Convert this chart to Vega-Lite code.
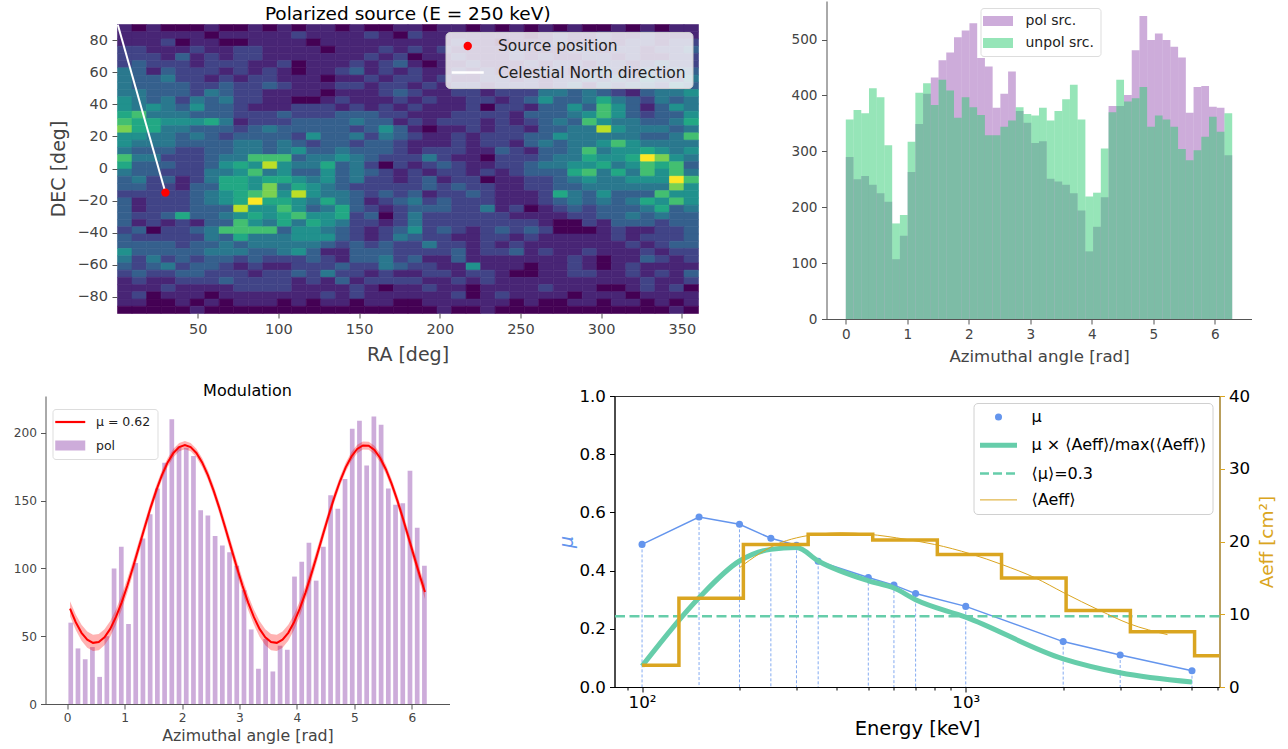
{
"$schema": "https://vega.github.io/schema/vega-lite/v6.json",
"background": "white",
"padding": {"left": 12.5, "top": 1, "right": 0, "bottom": 0},
"config": {
  "font": "DejaVu Sans",
  "view": {"stroke": null},
  "axis": {"grid": false, "tickSize": 5, "labelPadding": 4, "domainColor": "#555555", "tickColor": "#555555", "labelColor": "#444444", "titleColor": "#444444", "titleFontWeight": "normal", "labelFlush": false, "labelOverlap": false},
  "title": {"fontWeight": "normal", "color": "#000000", "anchor": "middle"},
  "legend": {"titleFontWeight": "normal", "labelLimit": 500}
},
"spacing": 16,
"resolve": {"scale": {"x": "independent", "y": "independent", "color": "independent", "fill": "independent", "stroke": "independent"}, "legend": {"color": "independent", "fill": "independent", "stroke": "independent"}},
"vconcat": [
{
"spacing": 91,
"resolve": {"scale": {"x": "independent", "y": "independent", "color": "independent", "fill": "independent", "stroke": "independent"}, "legend": {"color": "independent", "fill": "independent", "stroke": "independent"}},
"hconcat": [
{
"width": 652.5, "height": 312,
"title": {"text": "Polarized source (E = 250 keV)", "fontSize": 18.5, "offset": -22, "dx": 36},
"layer": [
{
"data": {"values": [
{"r":0,"d":85.5,"c":1},{"r":9,"d":85.5,"c":0},{"r":18,"d":85.5,"c":1},{"r":27,"d":85.5,"c":0},{"r":36,"d":85.5,"c":0},{"r":45,"d":85.5,"c":0},{"r":54,"d":85.5,"c":1},{"r":63,"d":85.5,"c":0},{"r":72,"d":85.5,"c":0},{"r":81,"d":85.5,"c":1},{"r":90,"d":85.5,"c":0},{"r":99,"d":85.5,"c":1},{"r":108,"d":85.5,"c":0},{"r":117,"d":85.5,"c":1},{"r":126,"d":85.5,"c":1},{"r":135,"d":85.5,"c":0},{"r":144,"d":85.5,"c":1},{"r":153,"d":85.5,"c":0},{"r":162,"d":85.5,"c":0},{"r":171,"d":85.5,"c":1},{"r":180,"d":85.5,"c":1},{"r":189,"d":85.5,"c":0},{"r":198,"d":85.5,"c":1},{"r":207,"d":85.5,"c":1},{"r":216,"d":85.5,"c":0},{"r":225,"d":85.5,"c":1},{"r":234,"d":85.5,"c":0},{"r":243,"d":85.5,"c":1},{"r":252,"d":85.5,"c":0},{"r":261,"d":85.5,"c":1},{"r":270,"d":85.5,"c":0},{"r":279,"d":85.5,"c":1},{"r":288,"d":85.5,"c":0},{"r":297,"d":85.5,"c":0},{"r":306,"d":85.5,"c":1},{"r":315,"d":85.5,"c":0},{"r":324,"d":85.5,"c":1},{"r":333,"d":85.5,"c":0},{"r":342,"d":85.5,"c":1},{"r":351,"d":85.5,"c":1},
{"r":0,"d":81,"c":1},{"r":9,"d":81,"c":1},{"r":18,"d":81,"c":1},{"r":27,"d":81,"c":1},{"r":36,"d":81,"c":1},{"r":45,"d":81,"c":1},{"r":54,"d":81,"c":0},{"r":63,"d":81,"c":1},{"r":72,"d":81,"c":1},{"r":81,"d":81,"c":1},{"r":90,"d":81,"c":1},{"r":99,"d":81,"c":1},{"r":108,"d":81,"c":2},{"r":117,"d":81,"c":1},{"r":126,"d":81,"c":1},{"r":135,"d":81,"c":1},{"r":144,"d":81,"c":1},{"r":153,"d":81,"c":2},{"r":162,"d":81,"c":1},{"r":171,"d":81,"c":0},{"r":180,"d":81,"c":2},{"r":189,"d":81,"c":1},{"r":198,"d":81,"c":1},{"r":207,"d":81,"c":1},{"r":216,"d":81,"c":1},{"r":225,"d":81,"c":1},{"r":234,"d":81,"c":1},{"r":243,"d":81,"c":1},{"r":252,"d":81,"c":0},{"r":261,"d":81,"c":1},{"r":270,"d":81,"c":2},{"r":279,"d":81,"c":1},{"r":288,"d":81,"c":1},{"r":297,"d":81,"c":2},{"r":306,"d":81,"c":1},{"r":315,"d":81,"c":1},{"r":324,"d":81,"c":2},{"r":333,"d":81,"c":1},{"r":342,"d":81,"c":1},{"r":351,"d":81,"c":1},
{"r":0,"d":76.5,"c":1},{"r":9,"d":76.5,"c":1},{"r":18,"d":76.5,"c":1},{"r":27,"d":76.5,"c":2},{"r":36,"d":76.5,"c":0},{"r":45,"d":76.5,"c":1},{"r":54,"d":76.5,"c":1},{"r":63,"d":76.5,"c":0},{"r":72,"d":76.5,"c":0},{"r":81,"d":76.5,"c":1},{"r":90,"d":76.5,"c":1},{"r":99,"d":76.5,"c":1},{"r":108,"d":76.5,"c":1},{"r":117,"d":76.5,"c":0},{"r":126,"d":76.5,"c":1},{"r":135,"d":76.5,"c":1},{"r":144,"d":76.5,"c":1},{"r":153,"d":76.5,"c":1},{"r":162,"d":76.5,"c":1},{"r":171,"d":76.5,"c":1},{"r":180,"d":76.5,"c":1},{"r":189,"d":76.5,"c":1},{"r":198,"d":76.5,"c":1},{"r":207,"d":76.5,"c":2},{"r":216,"d":76.5,"c":1},{"r":225,"d":76.5,"c":1},{"r":234,"d":76.5,"c":0},{"r":243,"d":76.5,"c":1},{"r":252,"d":76.5,"c":1},{"r":261,"d":76.5,"c":1},{"r":270,"d":76.5,"c":2},{"r":279,"d":76.5,"c":1},{"r":288,"d":76.5,"c":1},{"r":297,"d":76.5,"c":2},{"r":306,"d":76.5,"c":1},{"r":315,"d":76.5,"c":2},{"r":324,"d":76.5,"c":2},{"r":333,"d":76.5,"c":1},{"r":342,"d":76.5,"c":2},{"r":351,"d":76.5,"c":2},
{"r":0,"d":72,"c":2},{"r":9,"d":72,"c":2},{"r":18,"d":72,"c":1},{"r":27,"d":72,"c":1},{"r":36,"d":72,"c":1},{"r":45,"d":72,"c":2},{"r":54,"d":72,"c":1},{"r":63,"d":72,"c":1},{"r":72,"d":72,"c":2},{"r":81,"d":72,"c":2},{"r":90,"d":72,"c":1},{"r":99,"d":72,"c":1},{"r":108,"d":72,"c":1},{"r":117,"d":72,"c":1},{"r":126,"d":72,"c":0},{"r":135,"d":72,"c":1},{"r":144,"d":72,"c":1},{"r":153,"d":72,"c":1},{"r":162,"d":72,"c":2},{"r":171,"d":72,"c":1},{"r":180,"d":72,"c":2},{"r":189,"d":72,"c":1},{"r":198,"d":72,"c":2},{"r":207,"d":72,"c":1},{"r":216,"d":72,"c":1},{"r":225,"d":72,"c":1},{"r":234,"d":72,"c":1},{"r":243,"d":72,"c":2},{"r":252,"d":72,"c":1},{"r":261,"d":72,"c":1},{"r":270,"d":72,"c":1},{"r":279,"d":72,"c":2},{"r":288,"d":72,"c":2},{"r":297,"d":72,"c":1},{"r":306,"d":72,"c":2},{"r":315,"d":72,"c":2},{"r":324,"d":72,"c":1},{"r":333,"d":72,"c":2},{"r":342,"d":72,"c":2},{"r":351,"d":72,"c":3},
{"r":0,"d":67.5,"c":2},{"r":9,"d":67.5,"c":2},{"r":18,"d":67.5,"c":2},{"r":27,"d":67.5,"c":1},{"r":36,"d":67.5,"c":3},{"r":45,"d":67.5,"c":1},{"r":54,"d":67.5,"c":2},{"r":63,"d":67.5,"c":1},{"r":72,"d":67.5,"c":2},{"r":81,"d":67.5,"c":2},{"r":90,"d":67.5,"c":1},{"r":99,"d":67.5,"c":1},{"r":108,"d":67.5,"c":1},{"r":117,"d":67.5,"c":1},{"r":126,"d":67.5,"c":1},{"r":135,"d":67.5,"c":1},{"r":144,"d":67.5,"c":1},{"r":153,"d":67.5,"c":2},{"r":162,"d":67.5,"c":1},{"r":171,"d":67.5,"c":2},{"r":180,"d":67.5,"c":0},{"r":189,"d":67.5,"c":1},{"r":198,"d":67.5,"c":1},{"r":207,"d":67.5,"c":2},{"r":216,"d":67.5,"c":1},{"r":225,"d":67.5,"c":1},{"r":234,"d":67.5,"c":1},{"r":243,"d":67.5,"c":2},{"r":252,"d":67.5,"c":1},{"r":261,"d":67.5,"c":2},{"r":270,"d":67.5,"c":1},{"r":279,"d":67.5,"c":1},{"r":288,"d":67.5,"c":2},{"r":297,"d":67.5,"c":2},{"r":306,"d":67.5,"c":1},{"r":315,"d":67.5,"c":2},{"r":324,"d":67.5,"c":1},{"r":333,"d":67.5,"c":1},{"r":342,"d":67.5,"c":2},{"r":351,"d":67.5,"c":2},
{"r":0,"d":63,"c":2},{"r":9,"d":63,"c":3},{"r":18,"d":63,"c":2},{"r":27,"d":63,"c":2},{"r":36,"d":63,"c":2},{"r":45,"d":63,"c":1},{"r":54,"d":63,"c":2},{"r":63,"d":63,"c":2},{"r":72,"d":63,"c":2},{"r":81,"d":63,"c":1},{"r":90,"d":63,"c":1},{"r":99,"d":63,"c":2},{"r":108,"d":63,"c":0},{"r":117,"d":63,"c":1},{"r":126,"d":63,"c":1},{"r":135,"d":63,"c":1},{"r":144,"d":63,"c":2},{"r":153,"d":63,"c":1},{"r":162,"d":63,"c":2},{"r":171,"d":63,"c":3},{"r":180,"d":63,"c":1},{"r":189,"d":63,"c":0},{"r":198,"d":63,"c":1},{"r":207,"d":63,"c":1},{"r":216,"d":63,"c":2},{"r":225,"d":63,"c":1},{"r":234,"d":63,"c":1},{"r":243,"d":63,"c":1},{"r":252,"d":63,"c":2},{"r":261,"d":63,"c":1},{"r":270,"d":63,"c":2},{"r":279,"d":63,"c":2},{"r":288,"d":63,"c":1},{"r":297,"d":63,"c":2},{"r":306,"d":63,"c":2},{"r":315,"d":63,"c":1},{"r":324,"d":63,"c":2},{"r":333,"d":63,"c":3},{"r":342,"d":63,"c":2},{"r":351,"d":63,"c":2},
{"r":0,"d":58.5,"c":4},{"r":9,"d":58.5,"c":3},{"r":18,"d":58.5,"c":1},{"r":27,"d":58.5,"c":3},{"r":36,"d":58.5,"c":2},{"r":45,"d":58.5,"c":2},{"r":54,"d":58.5,"c":2},{"r":63,"d":58.5,"c":1},{"r":72,"d":58.5,"c":2},{"r":81,"d":58.5,"c":1},{"r":90,"d":58.5,"c":2},{"r":99,"d":58.5,"c":1},{"r":108,"d":58.5,"c":0},{"r":117,"d":58.5,"c":1},{"r":126,"d":58.5,"c":1},{"r":135,"d":58.5,"c":2},{"r":144,"d":58.5,"c":3},{"r":153,"d":58.5,"c":1},{"r":162,"d":58.5,"c":2},{"r":171,"d":58.5,"c":1},{"r":180,"d":58.5,"c":2},{"r":189,"d":58.5,"c":1},{"r":198,"d":58.5,"c":1},{"r":207,"d":58.5,"c":2},{"r":216,"d":58.5,"c":1},{"r":225,"d":58.5,"c":2},{"r":234,"d":58.5,"c":1},{"r":243,"d":58.5,"c":1},{"r":252,"d":58.5,"c":1},{"r":261,"d":58.5,"c":2},{"r":270,"d":58.5,"c":2},{"r":279,"d":58.5,"c":1},{"r":288,"d":58.5,"c":2},{"r":297,"d":58.5,"c":3},{"r":306,"d":58.5,"c":2},{"r":315,"d":58.5,"c":1},{"r":324,"d":58.5,"c":3},{"r":333,"d":58.5,"c":2},{"r":342,"d":58.5,"c":3},{"r":351,"d":58.5,"c":3},
{"r":0,"d":54,"c":4},{"r":9,"d":54,"c":3},{"r":18,"d":54,"c":3},{"r":27,"d":54,"c":4},{"r":36,"d":54,"c":2},{"r":45,"d":54,"c":2},{"r":54,"d":54,"c":1},{"r":63,"d":54,"c":2},{"r":72,"d":54,"c":1},{"r":81,"d":54,"c":2},{"r":90,"d":54,"c":2},{"r":99,"d":54,"c":1},{"r":108,"d":54,"c":1},{"r":117,"d":54,"c":1},{"r":126,"d":54,"c":0},{"r":135,"d":54,"c":1},{"r":144,"d":54,"c":1},{"r":153,"d":54,"c":2},{"r":162,"d":54,"c":1},{"r":171,"d":54,"c":2},{"r":180,"d":54,"c":2},{"r":189,"d":54,"c":1},{"r":198,"d":54,"c":2},{"r":207,"d":54,"c":1},{"r":216,"d":54,"c":1},{"r":225,"d":54,"c":2},{"r":234,"d":54,"c":2},{"r":243,"d":54,"c":1},{"r":252,"d":54,"c":2},{"r":261,"d":54,"c":1},{"r":270,"d":54,"c":2},{"r":279,"d":54,"c":2},{"r":288,"d":54,"c":3},{"r":297,"d":54,"c":2},{"r":306,"d":54,"c":3},{"r":315,"d":54,"c":2},{"r":324,"d":54,"c":4},{"r":333,"d":54,"c":3},{"r":342,"d":54,"c":2},{"r":351,"d":54,"c":4},
{"r":0,"d":49.5,"c":4},{"r":9,"d":49.5,"c":3},{"r":18,"d":49.5,"c":3},{"r":27,"d":49.5,"c":3},{"r":36,"d":49.5,"c":3},{"r":45,"d":49.5,"c":2},{"r":54,"d":49.5,"c":2},{"r":63,"d":49.5,"c":3},{"r":72,"d":49.5,"c":2},{"r":81,"d":49.5,"c":2},{"r":90,"d":49.5,"c":3},{"r":99,"d":49.5,"c":2},{"r":108,"d":49.5,"c":1},{"r":117,"d":49.5,"c":1},{"r":126,"d":49.5,"c":1},{"r":135,"d":49.5,"c":2},{"r":144,"d":49.5,"c":2},{"r":153,"d":49.5,"c":1},{"r":162,"d":49.5,"c":2},{"r":171,"d":49.5,"c":2},{"r":180,"d":49.5,"c":1},{"r":189,"d":49.5,"c":2},{"r":198,"d":49.5,"c":1},{"r":207,"d":49.5,"c":2},{"r":216,"d":49.5,"c":2},{"r":225,"d":49.5,"c":1},{"r":234,"d":49.5,"c":2},{"r":243,"d":49.5,"c":2},{"r":252,"d":49.5,"c":2},{"r":261,"d":49.5,"c":1},{"r":270,"d":49.5,"c":2},{"r":279,"d":49.5,"c":3},{"r":288,"d":49.5,"c":1},{"r":297,"d":49.5,"c":3},{"r":306,"d":49.5,"c":2},{"r":315,"d":49.5,"c":3},{"r":324,"d":49.5,"c":3},{"r":333,"d":49.5,"c":2},{"r":342,"d":49.5,"c":4},{"r":351,"d":49.5,"c":3},
{"r":0,"d":45,"c":4},{"r":9,"d":45,"c":4},{"r":18,"d":45,"c":3},{"r":27,"d":45,"c":3},{"r":36,"d":45,"c":3},{"r":45,"d":45,"c":2},{"r":54,"d":45,"c":4},{"r":63,"d":45,"c":3},{"r":72,"d":45,"c":2},{"r":81,"d":45,"c":2},{"r":90,"d":45,"c":1},{"r":99,"d":45,"c":1},{"r":108,"d":45,"c":1},{"r":117,"d":45,"c":1},{"r":126,"d":45,"c":0},{"r":135,"d":45,"c":1},{"r":144,"d":45,"c":1},{"r":153,"d":45,"c":1},{"r":162,"d":45,"c":2},{"r":171,"d":45,"c":3},{"r":180,"d":45,"c":2},{"r":189,"d":45,"c":1},{"r":198,"d":45,"c":1},{"r":207,"d":45,"c":2},{"r":216,"d":45,"c":2},{"r":225,"d":45,"c":1},{"r":234,"d":45,"c":2},{"r":243,"d":45,"c":2},{"r":252,"d":45,"c":2},{"r":261,"d":45,"c":4},{"r":270,"d":45,"c":4},{"r":279,"d":45,"c":3},{"r":288,"d":45,"c":4},{"r":297,"d":45,"c":3},{"r":306,"d":45,"c":2},{"r":315,"d":45,"c":1},{"r":324,"d":45,"c":3},{"r":333,"d":45,"c":4},{"r":342,"d":45,"c":4},{"r":351,"d":45,"c":5},
{"r":0,"d":40.5,"c":5},{"r":9,"d":40.5,"c":4},{"r":18,"d":40.5,"c":3},{"r":27,"d":40.5,"c":4},{"r":36,"d":40.5,"c":2},{"r":45,"d":40.5,"c":4},{"r":54,"d":40.5,"c":3},{"r":63,"d":40.5,"c":4},{"r":72,"d":40.5,"c":2},{"r":81,"d":40.5,"c":2},{"r":90,"d":40.5,"c":1},{"r":99,"d":40.5,"c":1},{"r":108,"d":40.5,"c":0},{"r":117,"d":40.5,"c":0},{"r":126,"d":40.5,"c":1},{"r":135,"d":40.5,"c":2},{"r":144,"d":40.5,"c":1},{"r":153,"d":40.5,"c":1},{"r":162,"d":40.5,"c":1},{"r":171,"d":40.5,"c":2},{"r":180,"d":40.5,"c":1},{"r":189,"d":40.5,"c":2},{"r":198,"d":40.5,"c":1},{"r":207,"d":40.5,"c":1},{"r":216,"d":40.5,"c":2},{"r":225,"d":40.5,"c":2},{"r":234,"d":40.5,"c":1},{"r":243,"d":40.5,"c":2},{"r":252,"d":40.5,"c":3},{"r":261,"d":40.5,"c":5},{"r":270,"d":40.5,"c":3},{"r":279,"d":40.5,"c":3},{"r":288,"d":40.5,"c":4},{"r":297,"d":40.5,"c":6},{"r":306,"d":40.5,"c":4},{"r":315,"d":40.5,"c":3},{"r":324,"d":40.5,"c":2},{"r":333,"d":40.5,"c":4},{"r":342,"d":40.5,"c":3},{"r":351,"d":40.5,"c":4},
{"r":0,"d":36,"c":5},{"r":9,"d":36,"c":4},{"r":18,"d":36,"c":5},{"r":27,"d":36,"c":4},{"r":36,"d":36,"c":3},{"r":45,"d":36,"c":5},{"r":54,"d":36,"c":3},{"r":63,"d":36,"c":3},{"r":72,"d":36,"c":2},{"r":81,"d":36,"c":1},{"r":90,"d":36,"c":1},{"r":99,"d":36,"c":1},{"r":108,"d":36,"c":2},{"r":117,"d":36,"c":2},{"r":126,"d":36,"c":2},{"r":135,"d":36,"c":1},{"r":144,"d":36,"c":2},{"r":153,"d":36,"c":1},{"r":162,"d":36,"c":2},{"r":171,"d":36,"c":1},{"r":180,"d":36,"c":2},{"r":189,"d":36,"c":1},{"r":198,"d":36,"c":1},{"r":207,"d":36,"c":1},{"r":216,"d":36,"c":2},{"r":225,"d":36,"c":0},{"r":234,"d":36,"c":2},{"r":243,"d":36,"c":2},{"r":252,"d":36,"c":1},{"r":261,"d":36,"c":3},{"r":270,"d":36,"c":3},{"r":279,"d":36,"c":5},{"r":288,"d":36,"c":3},{"r":297,"d":36,"c":7},{"r":306,"d":36,"c":5},{"r":315,"d":36,"c":3},{"r":324,"d":36,"c":1},{"r":333,"d":36,"c":3},{"r":342,"d":36,"c":5},{"r":351,"d":36,"c":4},
{"r":0,"d":31.5,"c":6},{"r":9,"d":31.5,"c":7},{"r":18,"d":31.5,"c":4},{"r":27,"d":31.5,"c":4},{"r":36,"d":31.5,"c":4},{"r":45,"d":31.5,"c":3},{"r":54,"d":31.5,"c":3},{"r":63,"d":31.5,"c":3},{"r":72,"d":31.5,"c":2},{"r":81,"d":31.5,"c":2},{"r":90,"d":31.5,"c":2},{"r":99,"d":31.5,"c":3},{"r":108,"d":31.5,"c":2},{"r":117,"d":31.5,"c":2},{"r":126,"d":31.5,"c":2},{"r":135,"d":31.5,"c":3},{"r":144,"d":31.5,"c":3},{"r":153,"d":31.5,"c":3},{"r":162,"d":31.5,"c":2},{"r":171,"d":31.5,"c":2},{"r":180,"d":31.5,"c":1},{"r":189,"d":31.5,"c":1},{"r":198,"d":31.5,"c":1},{"r":207,"d":31.5,"c":2},{"r":216,"d":31.5,"c":2},{"r":225,"d":31.5,"c":2},{"r":234,"d":31.5,"c":2},{"r":243,"d":31.5,"c":1},{"r":252,"d":31.5,"c":3},{"r":261,"d":31.5,"c":3},{"r":270,"d":31.5,"c":3},{"r":279,"d":31.5,"c":4},{"r":288,"d":31.5,"c":5},{"r":297,"d":31.5,"c":7},{"r":306,"d":31.5,"c":5},{"r":315,"d":31.5,"c":3},{"r":324,"d":31.5,"c":2},{"r":333,"d":31.5,"c":3},{"r":342,"d":31.5,"c":3},{"r":351,"d":31.5,"c":5},
{"r":0,"d":27,"c":7},{"r":9,"d":27,"c":6},{"r":18,"d":27,"c":6},{"r":27,"d":27,"c":5},{"r":36,"d":27,"c":5},{"r":45,"d":27,"c":5},{"r":54,"d":27,"c":6},{"r":63,"d":27,"c":4},{"r":72,"d":27,"c":1},{"r":81,"d":27,"c":2},{"r":90,"d":27,"c":2},{"r":99,"d":27,"c":2},{"r":108,"d":27,"c":3},{"r":117,"d":27,"c":3},{"r":126,"d":27,"c":3},{"r":135,"d":27,"c":3},{"r":144,"d":27,"c":4},{"r":153,"d":27,"c":3},{"r":162,"d":27,"c":3},{"r":171,"d":27,"c":1},{"r":180,"d":27,"c":2},{"r":189,"d":27,"c":1},{"r":198,"d":27,"c":2},{"r":207,"d":27,"c":2},{"r":216,"d":27,"c":2},{"r":225,"d":27,"c":1},{"r":234,"d":27,"c":2},{"r":243,"d":27,"c":1},{"r":252,"d":27,"c":2},{"r":261,"d":27,"c":3},{"r":270,"d":27,"c":4},{"r":279,"d":27,"c":3},{"r":288,"d":27,"c":7},{"r":297,"d":27,"c":5},{"r":306,"d":27,"c":4},{"r":315,"d":27,"c":4},{"r":324,"d":27,"c":3},{"r":333,"d":27,"c":3},{"r":342,"d":27,"c":4},{"r":351,"d":27,"c":6},
{"r":0,"d":22.5,"c":8},{"r":9,"d":22.5,"c":6},{"r":18,"d":22.5,"c":6},{"r":27,"d":22.5,"c":4},{"r":36,"d":22.5,"c":4},{"r":45,"d":22.5,"c":3},{"r":54,"d":22.5,"c":3},{"r":63,"d":22.5,"c":3},{"r":72,"d":22.5,"c":2},{"r":81,"d":22.5,"c":3},{"r":90,"d":22.5,"c":4},{"r":99,"d":22.5,"c":3},{"r":108,"d":22.5,"c":3},{"r":117,"d":22.5,"c":3},{"r":126,"d":22.5,"c":3},{"r":135,"d":22.5,"c":3},{"r":144,"d":22.5,"c":2},{"r":153,"d":22.5,"c":3},{"r":162,"d":22.5,"c":5},{"r":171,"d":22.5,"c":3},{"r":180,"d":22.5,"c":1},{"r":189,"d":22.5,"c":0},{"r":198,"d":22.5,"c":1},{"r":207,"d":22.5,"c":1},{"r":216,"d":22.5,"c":2},{"r":225,"d":22.5,"c":1},{"r":234,"d":22.5,"c":2},{"r":243,"d":22.5,"c":2},{"r":252,"d":22.5,"c":1},{"r":261,"d":22.5,"c":3},{"r":270,"d":22.5,"c":3},{"r":279,"d":22.5,"c":4},{"r":288,"d":22.5,"c":4},{"r":297,"d":22.5,"c":9},{"r":306,"d":22.5,"c":5},{"r":315,"d":22.5,"c":4},{"r":324,"d":22.5,"c":4},{"r":333,"d":22.5,"c":4},{"r":342,"d":22.5,"c":3},{"r":351,"d":22.5,"c":4},
{"r":0,"d":18,"c":5},{"r":9,"d":18,"c":5},{"r":18,"d":18,"c":4},{"r":27,"d":18,"c":4},{"r":36,"d":18,"c":3},{"r":45,"d":18,"c":4},{"r":54,"d":18,"c":3},{"r":63,"d":18,"c":2},{"r":72,"d":18,"c":3},{"r":81,"d":18,"c":3},{"r":90,"d":18,"c":3},{"r":99,"d":18,"c":3},{"r":108,"d":18,"c":2},{"r":117,"d":18,"c":5},{"r":126,"d":18,"c":3},{"r":135,"d":18,"c":3},{"r":144,"d":18,"c":4},{"r":153,"d":18,"c":2},{"r":162,"d":18,"c":4},{"r":171,"d":18,"c":3},{"r":180,"d":18,"c":2},{"r":189,"d":18,"c":1},{"r":198,"d":18,"c":1},{"r":207,"d":18,"c":2},{"r":216,"d":18,"c":1},{"r":225,"d":18,"c":2},{"r":234,"d":18,"c":2},{"r":243,"d":18,"c":2},{"r":252,"d":18,"c":3},{"r":261,"d":18,"c":3},{"r":270,"d":18,"c":5},{"r":279,"d":18,"c":4},{"r":288,"d":18,"c":4},{"r":297,"d":18,"c":4},{"r":306,"d":18,"c":4},{"r":315,"d":18,"c":4},{"r":324,"d":18,"c":3},{"r":333,"d":18,"c":3},{"r":342,"d":18,"c":4},{"r":351,"d":18,"c":7},
{"r":0,"d":13.5,"c":5},{"r":9,"d":13.5,"c":4},{"r":18,"d":13.5,"c":4},{"r":27,"d":13.5,"c":4},{"r":36,"d":13.5,"c":3},{"r":45,"d":13.5,"c":3},{"r":54,"d":13.5,"c":3},{"r":63,"d":13.5,"c":3},{"r":72,"d":13.5,"c":4},{"r":81,"d":13.5,"c":4},{"r":90,"d":13.5,"c":3},{"r":99,"d":13.5,"c":4},{"r":108,"d":13.5,"c":3},{"r":117,"d":13.5,"c":2},{"r":126,"d":13.5,"c":3},{"r":135,"d":13.5,"c":3},{"r":144,"d":13.5,"c":2},{"r":153,"d":13.5,"c":3},{"r":162,"d":13.5,"c":3},{"r":171,"d":13.5,"c":2},{"r":180,"d":13.5,"c":1},{"r":189,"d":13.5,"c":1},{"r":198,"d":13.5,"c":1},{"r":207,"d":13.5,"c":2},{"r":216,"d":13.5,"c":1},{"r":225,"d":13.5,"c":2},{"r":234,"d":13.5,"c":2},{"r":243,"d":13.5,"c":1},{"r":252,"d":13.5,"c":3},{"r":261,"d":13.5,"c":4},{"r":270,"d":13.5,"c":3},{"r":279,"d":13.5,"c":4},{"r":288,"d":13.5,"c":4},{"r":297,"d":13.5,"c":5},{"r":306,"d":13.5,"c":7},{"r":315,"d":13.5,"c":5},{"r":324,"d":13.5,"c":4},{"r":333,"d":13.5,"c":4},{"r":342,"d":13.5,"c":4},{"r":351,"d":13.5,"c":4},
{"r":0,"d":9,"c":4},{"r":9,"d":9,"c":3},{"r":18,"d":9,"c":3},{"r":27,"d":9,"c":3},{"r":36,"d":9,"c":2},{"r":45,"d":9,"c":2},{"r":54,"d":9,"c":3},{"r":63,"d":9,"c":3},{"r":72,"d":9,"c":4},{"r":81,"d":9,"c":4},{"r":90,"d":9,"c":3},{"r":99,"d":9,"c":4},{"r":108,"d":9,"c":5},{"r":117,"d":9,"c":3},{"r":126,"d":9,"c":3},{"r":135,"d":9,"c":4},{"r":144,"d":9,"c":3},{"r":153,"d":9,"c":3},{"r":162,"d":9,"c":3},{"r":171,"d":9,"c":2},{"r":180,"d":9,"c":1},{"r":189,"d":9,"c":2},{"r":198,"d":9,"c":2},{"r":207,"d":9,"c":2},{"r":216,"d":9,"c":1},{"r":225,"d":9,"c":1},{"r":234,"d":9,"c":3},{"r":243,"d":9,"c":2},{"r":252,"d":9,"c":1},{"r":261,"d":9,"c":3},{"r":270,"d":9,"c":3},{"r":279,"d":9,"c":4},{"r":288,"d":9,"c":7},{"r":297,"d":9,"c":4},{"r":306,"d":9,"c":5},{"r":315,"d":9,"c":5},{"r":324,"d":9,"c":6},{"r":333,"d":9,"c":5},{"r":342,"d":9,"c":4},{"r":351,"d":9,"c":5},
{"r":0,"d":4.5,"c":7},{"r":9,"d":4.5,"c":4},{"r":18,"d":4.5,"c":4},{"r":27,"d":4.5,"c":2},{"r":36,"d":4.5,"c":2},{"r":45,"d":4.5,"c":2},{"r":54,"d":4.5,"c":3},{"r":63,"d":4.5,"c":4},{"r":72,"d":4.5,"c":4},{"r":81,"d":4.5,"c":7},{"r":90,"d":4.5,"c":7},{"r":99,"d":4.5,"c":7},{"r":108,"d":4.5,"c":3},{"r":117,"d":4.5,"c":4},{"r":126,"d":4.5,"c":4},{"r":135,"d":4.5,"c":5},{"r":144,"d":4.5,"c":4},{"r":153,"d":4.5,"c":3},{"r":162,"d":4.5,"c":2},{"r":171,"d":4.5,"c":2},{"r":180,"d":4.5,"c":2},{"r":189,"d":4.5,"c":4},{"r":198,"d":4.5,"c":2},{"r":207,"d":4.5,"c":1},{"r":216,"d":4.5,"c":1},{"r":225,"d":4.5,"c":0},{"r":234,"d":4.5,"c":2},{"r":243,"d":4.5,"c":2},{"r":252,"d":4.5,"c":2},{"r":261,"d":4.5,"c":3},{"r":270,"d":4.5,"c":4},{"r":279,"d":4.5,"c":4},{"r":288,"d":4.5,"c":6},{"r":297,"d":4.5,"c":5},{"r":306,"d":4.5,"c":5},{"r":315,"d":4.5,"c":6},{"r":324,"d":4.5,"c":10},{"r":333,"d":4.5,"c":8},{"r":342,"d":4.5,"c":5},{"r":351,"d":4.5,"c":4},
{"r":0,"d":0,"c":6},{"r":9,"d":0,"c":3},{"r":18,"d":0,"c":3},{"r":27,"d":0,"c":3},{"r":36,"d":0,"c":2},{"r":45,"d":0,"c":2},{"r":54,"d":0,"c":3},{"r":63,"d":0,"c":5},{"r":72,"d":0,"c":6},{"r":81,"d":0,"c":5},{"r":90,"d":0,"c":9},{"r":99,"d":0,"c":5},{"r":108,"d":0,"c":4},{"r":117,"d":0,"c":4},{"r":126,"d":0,"c":6},{"r":135,"d":0,"c":3},{"r":144,"d":0,"c":4},{"r":153,"d":0,"c":2},{"r":162,"d":0,"c":0},{"r":171,"d":0,"c":2},{"r":180,"d":0,"c":1},{"r":189,"d":0,"c":2},{"r":198,"d":0,"c":3},{"r":207,"d":0,"c":2},{"r":216,"d":0,"c":1},{"r":225,"d":0,"c":1},{"r":234,"d":0,"c":2},{"r":243,"d":0,"c":2},{"r":252,"d":0,"c":3},{"r":261,"d":0,"c":4},{"r":270,"d":0,"c":4},{"r":279,"d":0,"c":5},{"r":288,"d":0,"c":5},{"r":297,"d":0,"c":6},{"r":306,"d":0,"c":4},{"r":315,"d":0,"c":5},{"r":324,"d":0,"c":7},{"r":333,"d":0,"c":6},{"r":342,"d":0,"c":7},{"r":351,"d":0,"c":3},
{"r":0,"d":-4.5,"c":4},{"r":9,"d":-4.5,"c":3},{"r":18,"d":-4.5,"c":3},{"r":27,"d":-4.5,"c":2},{"r":36,"d":-4.5,"c":2},{"r":45,"d":-4.5,"c":2},{"r":54,"d":-4.5,"c":4},{"r":63,"d":-4.5,"c":4},{"r":72,"d":-4.5,"c":5},{"r":81,"d":-4.5,"c":7},{"r":90,"d":-4.5,"c":4},{"r":99,"d":-4.5,"c":5},{"r":108,"d":-4.5,"c":3},{"r":117,"d":-4.5,"c":3},{"r":126,"d":-4.5,"c":5},{"r":135,"d":-4.5,"c":3},{"r":144,"d":-4.5,"c":4},{"r":153,"d":-4.5,"c":3},{"r":162,"d":-4.5,"c":2},{"r":171,"d":-4.5,"c":1},{"r":180,"d":-4.5,"c":2},{"r":189,"d":-4.5,"c":1},{"r":198,"d":-4.5,"c":2},{"r":207,"d":-4.5,"c":2},{"r":216,"d":-4.5,"c":1},{"r":225,"d":-4.5,"c":2},{"r":234,"d":-4.5,"c":1},{"r":243,"d":-4.5,"c":2},{"r":252,"d":-4.5,"c":3},{"r":261,"d":-4.5,"c":3},{"r":270,"d":-4.5,"c":3},{"r":279,"d":-4.5,"c":6},{"r":288,"d":-4.5,"c":7},{"r":297,"d":-4.5,"c":4},{"r":306,"d":-4.5,"c":6},{"r":315,"d":-4.5,"c":4},{"r":324,"d":-4.5,"c":7},{"r":333,"d":-4.5,"c":5},{"r":342,"d":-4.5,"c":7},{"r":351,"d":-4.5,"c":4},
{"r":0,"d":-9,"c":3},{"r":9,"d":-9,"c":4},{"r":18,"d":-9,"c":2},{"r":27,"d":-9,"c":3},{"r":36,"d":-9,"c":1},{"r":45,"d":-9,"c":2},{"r":54,"d":-9,"c":4},{"r":63,"d":-9,"c":6},{"r":72,"d":-9,"c":6},{"r":81,"d":-9,"c":5},{"r":90,"d":-9,"c":6},{"r":99,"d":-9,"c":6},{"r":108,"d":-9,"c":5},{"r":117,"d":-9,"c":4},{"r":126,"d":-9,"c":5},{"r":135,"d":-9,"c":3},{"r":144,"d":-9,"c":4},{"r":153,"d":-9,"c":2},{"r":162,"d":-9,"c":2},{"r":171,"d":-9,"c":1},{"r":180,"d":-9,"c":2},{"r":189,"d":-9,"c":3},{"r":198,"d":-9,"c":1},{"r":207,"d":-9,"c":2},{"r":216,"d":-9,"c":2},{"r":225,"d":-9,"c":0},{"r":234,"d":-9,"c":1},{"r":243,"d":-9,"c":1},{"r":252,"d":-9,"c":2},{"r":261,"d":-9,"c":2},{"r":270,"d":-9,"c":3},{"r":279,"d":-9,"c":4},{"r":288,"d":-9,"c":5},{"r":297,"d":-9,"c":4},{"r":306,"d":-9,"c":4},{"r":315,"d":-9,"c":5},{"r":324,"d":-9,"c":5},{"r":333,"d":-9,"c":5},{"r":342,"d":-9,"c":10},{"r":351,"d":-9,"c":7},
{"r":0,"d":-13.5,"c":3},{"r":9,"d":-13.5,"c":3},{"r":18,"d":-13.5,"c":2},{"r":27,"d":-13.5,"c":2},{"r":36,"d":-13.5,"c":1},{"r":45,"d":-13.5,"c":3},{"r":54,"d":-13.5,"c":3},{"r":63,"d":-13.5,"c":6},{"r":72,"d":-13.5,"c":6},{"r":81,"d":-13.5,"c":5},{"r":90,"d":-13.5,"c":8},{"r":99,"d":-13.5,"c":4},{"r":108,"d":-13.5,"c":6},{"r":117,"d":-13.5,"c":5},{"r":126,"d":-13.5,"c":4},{"r":135,"d":-13.5,"c":3},{"r":144,"d":-13.5,"c":2},{"r":153,"d":-13.5,"c":2},{"r":162,"d":-13.5,"c":2},{"r":171,"d":-13.5,"c":2},{"r":180,"d":-13.5,"c":2},{"r":189,"d":-13.5,"c":3},{"r":198,"d":-13.5,"c":2},{"r":207,"d":-13.5,"c":3},{"r":216,"d":-13.5,"c":2},{"r":225,"d":-13.5,"c":2},{"r":234,"d":-13.5,"c":1},{"r":243,"d":-13.5,"c":1},{"r":252,"d":-13.5,"c":2},{"r":261,"d":-13.5,"c":2},{"r":270,"d":-13.5,"c":3},{"r":279,"d":-13.5,"c":3},{"r":288,"d":-13.5,"c":4},{"r":297,"d":-13.5,"c":4},{"r":306,"d":-13.5,"c":4},{"r":315,"d":-13.5,"c":4},{"r":324,"d":-13.5,"c":4},{"r":333,"d":-13.5,"c":4},{"r":342,"d":-13.5,"c":8},{"r":351,"d":-13.5,"c":5},
{"r":0,"d":-18,"c":2},{"r":9,"d":-18,"c":2},{"r":18,"d":-18,"c":2},{"r":27,"d":-18,"c":2},{"r":36,"d":-18,"c":2},{"r":45,"d":-18,"c":3},{"r":54,"d":-18,"c":4},{"r":63,"d":-18,"c":5},{"r":72,"d":-18,"c":6},{"r":81,"d":-18,"c":7},{"r":90,"d":-18,"c":8},{"r":99,"d":-18,"c":5},{"r":108,"d":-18,"c":9},{"r":117,"d":-18,"c":5},{"r":126,"d":-18,"c":4},{"r":135,"d":-18,"c":4},{"r":144,"d":-18,"c":3},{"r":153,"d":-18,"c":2},{"r":162,"d":-18,"c":3},{"r":171,"d":-18,"c":2},{"r":180,"d":-18,"c":3},{"r":189,"d":-18,"c":1},{"r":198,"d":-18,"c":2},{"r":207,"d":-18,"c":2},{"r":216,"d":-18,"c":3},{"r":225,"d":-18,"c":2},{"r":234,"d":-18,"c":1},{"r":243,"d":-18,"c":1},{"r":252,"d":-18,"c":1},{"r":261,"d":-18,"c":2},{"r":270,"d":-18,"c":6},{"r":279,"d":-18,"c":4},{"r":288,"d":-18,"c":3},{"r":297,"d":-18,"c":5},{"r":306,"d":-18,"c":3},{"r":315,"d":-18,"c":3},{"r":324,"d":-18,"c":3},{"r":333,"d":-18,"c":7},{"r":342,"d":-18,"c":5},{"r":351,"d":-18,"c":5},
{"r":0,"d":-22.5,"c":3},{"r":9,"d":-22.5,"c":1},{"r":18,"d":-22.5,"c":2},{"r":27,"d":-22.5,"c":2},{"r":36,"d":-22.5,"c":2},{"r":45,"d":-22.5,"c":3},{"r":54,"d":-22.5,"c":4},{"r":63,"d":-22.5,"c":5},{"r":72,"d":-22.5,"c":6},{"r":81,"d":-22.5,"c":10},{"r":90,"d":-22.5,"c":6},{"r":99,"d":-22.5,"c":6},{"r":108,"d":-22.5,"c":5},{"r":117,"d":-22.5,"c":4},{"r":126,"d":-22.5,"c":6},{"r":135,"d":-22.5,"c":4},{"r":144,"d":-22.5,"c":3},{"r":153,"d":-22.5,"c":1},{"r":162,"d":-22.5,"c":2},{"r":171,"d":-22.5,"c":3},{"r":180,"d":-22.5,"c":4},{"r":189,"d":-22.5,"c":2},{"r":198,"d":-22.5,"c":3},{"r":207,"d":-22.5,"c":2},{"r":216,"d":-22.5,"c":2},{"r":225,"d":-22.5,"c":2},{"r":234,"d":-22.5,"c":1},{"r":243,"d":-22.5,"c":1},{"r":252,"d":-22.5,"c":1},{"r":261,"d":-22.5,"c":2},{"r":270,"d":-22.5,"c":3},{"r":279,"d":-22.5,"c":4},{"r":288,"d":-22.5,"c":3},{"r":297,"d":-22.5,"c":4},{"r":306,"d":-22.5,"c":3},{"r":315,"d":-22.5,"c":4},{"r":324,"d":-22.5,"c":6},{"r":333,"d":-22.5,"c":5},{"r":342,"d":-22.5,"c":7},{"r":351,"d":-22.5,"c":5},
{"r":0,"d":-27,"c":3},{"r":9,"d":-27,"c":1},{"r":18,"d":-27,"c":2},{"r":27,"d":-27,"c":2},{"r":36,"d":-27,"c":2},{"r":45,"d":-27,"c":3},{"r":54,"d":-27,"c":3},{"r":63,"d":-27,"c":3},{"r":72,"d":-27,"c":9},{"r":81,"d":-27,"c":5},{"r":90,"d":-27,"c":5},{"r":99,"d":-27,"c":7},{"r":108,"d":-27,"c":5},{"r":117,"d":-27,"c":3},{"r":126,"d":-27,"c":4},{"r":135,"d":-27,"c":6},{"r":144,"d":-27,"c":3},{"r":153,"d":-27,"c":2},{"r":162,"d":-27,"c":1},{"r":171,"d":-27,"c":2},{"r":180,"d":-27,"c":3},{"r":189,"d":-27,"c":3},{"r":198,"d":-27,"c":3},{"r":207,"d":-27,"c":2},{"r":216,"d":-27,"c":2},{"r":225,"d":-27,"c":4},{"r":234,"d":-27,"c":1},{"r":243,"d":-27,"c":2},{"r":252,"d":-27,"c":0},{"r":261,"d":-27,"c":1},{"r":270,"d":-27,"c":2},{"r":279,"d":-27,"c":3},{"r":288,"d":-27,"c":2},{"r":297,"d":-27,"c":3},{"r":306,"d":-27,"c":3},{"r":315,"d":-27,"c":3},{"r":324,"d":-27,"c":4},{"r":333,"d":-27,"c":6},{"r":342,"d":-27,"c":3},{"r":351,"d":-27,"c":4},
{"r":0,"d":-31.5,"c":3},{"r":9,"d":-31.5,"c":2},{"r":18,"d":-31.5,"c":2},{"r":27,"d":-31.5,"c":3},{"r":36,"d":-31.5,"c":6},{"r":45,"d":-31.5,"c":3},{"r":54,"d":-31.5,"c":3},{"r":63,"d":-31.5,"c":4},{"r":72,"d":-31.5,"c":5},{"r":81,"d":-31.5,"c":6},{"r":90,"d":-31.5,"c":5},{"r":99,"d":-31.5,"c":6},{"r":108,"d":-31.5,"c":7},{"r":117,"d":-31.5,"c":5},{"r":126,"d":-31.5,"c":5},{"r":135,"d":-31.5,"c":6},{"r":144,"d":-31.5,"c":2},{"r":153,"d":-31.5,"c":3},{"r":162,"d":-31.5,"c":0},{"r":171,"d":-31.5,"c":2},{"r":180,"d":-31.5,"c":4},{"r":189,"d":-31.5,"c":2},{"r":198,"d":-31.5,"c":2},{"r":207,"d":-31.5,"c":2},{"r":216,"d":-31.5,"c":2},{"r":225,"d":-31.5,"c":2},{"r":234,"d":-31.5,"c":2},{"r":243,"d":-31.5,"c":1},{"r":252,"d":-31.5,"c":1},{"r":261,"d":-31.5,"c":1},{"r":270,"d":-31.5,"c":1},{"r":279,"d":-31.5,"c":2},{"r":288,"d":-31.5,"c":2},{"r":297,"d":-31.5,"c":3},{"r":306,"d":-31.5,"c":3},{"r":315,"d":-31.5,"c":4},{"r":324,"d":-31.5,"c":3},{"r":333,"d":-31.5,"c":4},{"r":342,"d":-31.5,"c":3},{"r":351,"d":-31.5,"c":3},
{"r":0,"d":-36,"c":3},{"r":9,"d":-36,"c":1},{"r":18,"d":-36,"c":2},{"r":27,"d":-36,"c":1},{"r":36,"d":-36,"c":2},{"r":45,"d":-36,"c":1},{"r":54,"d":-36,"c":3},{"r":63,"d":-36,"c":3},{"r":72,"d":-36,"c":7},{"r":81,"d":-36,"c":5},{"r":90,"d":-36,"c":4},{"r":99,"d":-36,"c":6},{"r":108,"d":-36,"c":4},{"r":117,"d":-36,"c":6},{"r":126,"d":-36,"c":5},{"r":135,"d":-36,"c":4},{"r":144,"d":-36,"c":2},{"r":153,"d":-36,"c":2},{"r":162,"d":-36,"c":1},{"r":171,"d":-36,"c":2},{"r":180,"d":-36,"c":4},{"r":189,"d":-36,"c":2},{"r":198,"d":-36,"c":2},{"r":207,"d":-36,"c":2},{"r":216,"d":-36,"c":2},{"r":225,"d":-36,"c":2},{"r":234,"d":-36,"c":2},{"r":243,"d":-36,"c":2},{"r":252,"d":-36,"c":2},{"r":261,"d":-36,"c":1},{"r":270,"d":-36,"c":0},{"r":279,"d":-36,"c":0},{"r":288,"d":-36,"c":2},{"r":297,"d":-36,"c":1},{"r":306,"d":-36,"c":3},{"r":315,"d":-36,"c":3},{"r":324,"d":-36,"c":3},{"r":333,"d":-36,"c":2},{"r":342,"d":-36,"c":3},{"r":351,"d":-36,"c":3},
{"r":0,"d":-40.5,"c":2},{"r":9,"d":-40.5,"c":3},{"r":18,"d":-40.5,"c":0},{"r":27,"d":-40.5,"c":2},{"r":36,"d":-40.5,"c":2},{"r":45,"d":-40.5,"c":3},{"r":54,"d":-40.5,"c":4},{"r":63,"d":-40.5,"c":7},{"r":72,"d":-40.5,"c":7},{"r":81,"d":-40.5,"c":7},{"r":90,"d":-40.5,"c":7},{"r":99,"d":-40.5,"c":3},{"r":108,"d":-40.5,"c":5},{"r":117,"d":-40.5,"c":5},{"r":126,"d":-40.5,"c":4},{"r":135,"d":-40.5,"c":3},{"r":144,"d":-40.5,"c":2},{"r":153,"d":-40.5,"c":1},{"r":162,"d":-40.5,"c":2},{"r":171,"d":-40.5,"c":3},{"r":180,"d":-40.5,"c":5},{"r":189,"d":-40.5,"c":2},{"r":198,"d":-40.5,"c":3},{"r":207,"d":-40.5,"c":2},{"r":216,"d":-40.5,"c":1},{"r":225,"d":-40.5,"c":2},{"r":234,"d":-40.5,"c":3},{"r":243,"d":-40.5,"c":2},{"r":252,"d":-40.5,"c":3},{"r":261,"d":-40.5,"c":2},{"r":270,"d":-40.5,"c":0},{"r":279,"d":-40.5,"c":0},{"r":288,"d":-40.5,"c":0},{"r":297,"d":-40.5,"c":1},{"r":306,"d":-40.5,"c":2},{"r":315,"d":-40.5,"c":1},{"r":324,"d":-40.5,"c":1},{"r":333,"d":-40.5,"c":2},{"r":342,"d":-40.5,"c":2},{"r":351,"d":-40.5,"c":3},
{"r":0,"d":-45,"c":3},{"r":9,"d":-45,"c":2},{"r":18,"d":-45,"c":2},{"r":27,"d":-45,"c":2},{"r":36,"d":-45,"c":2},{"r":45,"d":-45,"c":2},{"r":54,"d":-45,"c":4},{"r":63,"d":-45,"c":3},{"r":72,"d":-45,"c":6},{"r":81,"d":-45,"c":4},{"r":90,"d":-45,"c":4},{"r":99,"d":-45,"c":4},{"r":108,"d":-45,"c":5},{"r":117,"d":-45,"c":5},{"r":126,"d":-45,"c":5},{"r":135,"d":-45,"c":3},{"r":144,"d":-45,"c":2},{"r":153,"d":-45,"c":1},{"r":162,"d":-45,"c":2},{"r":171,"d":-45,"c":4},{"r":180,"d":-45,"c":3},{"r":189,"d":-45,"c":2},{"r":198,"d":-45,"c":2},{"r":207,"d":-45,"c":1},{"r":216,"d":-45,"c":1},{"r":225,"d":-45,"c":2},{"r":234,"d":-45,"c":2},{"r":243,"d":-45,"c":1},{"r":252,"d":-45,"c":2},{"r":261,"d":-45,"c":1},{"r":270,"d":-45,"c":1},{"r":279,"d":-45,"c":1},{"r":288,"d":-45,"c":1},{"r":297,"d":-45,"c":1},{"r":306,"d":-45,"c":2},{"r":315,"d":-45,"c":1},{"r":324,"d":-45,"c":2},{"r":333,"d":-45,"c":2},{"r":342,"d":-45,"c":2},{"r":351,"d":-45,"c":3},
{"r":0,"d":-49.5,"c":3},{"r":9,"d":-49.5,"c":3},{"r":18,"d":-49.5,"c":3},{"r":27,"d":-49.5,"c":3},{"r":36,"d":-49.5,"c":2},{"r":45,"d":-49.5,"c":3},{"r":54,"d":-49.5,"c":3},{"r":63,"d":-49.5,"c":4},{"r":72,"d":-49.5,"c":3},{"r":81,"d":-49.5,"c":4},{"r":90,"d":-49.5,"c":4},{"r":99,"d":-49.5,"c":4},{"r":108,"d":-49.5,"c":4},{"r":117,"d":-49.5,"c":4},{"r":126,"d":-49.5,"c":3},{"r":135,"d":-49.5,"c":2},{"r":144,"d":-49.5,"c":3},{"r":153,"d":-49.5,"c":2},{"r":162,"d":-49.5,"c":3},{"r":171,"d":-49.5,"c":2},{"r":180,"d":-49.5,"c":2},{"r":189,"d":-49.5,"c":4},{"r":198,"d":-49.5,"c":2},{"r":207,"d":-49.5,"c":2},{"r":216,"d":-49.5,"c":1},{"r":225,"d":-49.5,"c":2},{"r":234,"d":-49.5,"c":1},{"r":243,"d":-49.5,"c":2},{"r":252,"d":-49.5,"c":1},{"r":261,"d":-49.5,"c":1},{"r":270,"d":-49.5,"c":1},{"r":279,"d":-49.5,"c":1},{"r":288,"d":-49.5,"c":1},{"r":297,"d":-49.5,"c":1},{"r":306,"d":-49.5,"c":1},{"r":315,"d":-49.5,"c":2},{"r":324,"d":-49.5,"c":1},{"r":333,"d":-49.5,"c":2},{"r":342,"d":-49.5,"c":3},{"r":351,"d":-49.5,"c":3},
{"r":0,"d":-54,"c":5},{"r":9,"d":-54,"c":3},{"r":18,"d":-54,"c":3},{"r":27,"d":-54,"c":3},{"r":36,"d":-54,"c":3},{"r":45,"d":-54,"c":3},{"r":54,"d":-54,"c":4},{"r":63,"d":-54,"c":4},{"r":72,"d":-54,"c":4},{"r":81,"d":-54,"c":3},{"r":90,"d":-54,"c":3},{"r":99,"d":-54,"c":4},{"r":108,"d":-54,"c":5},{"r":117,"d":-54,"c":3},{"r":126,"d":-54,"c":1},{"r":135,"d":-54,"c":1},{"r":144,"d":-54,"c":3},{"r":153,"d":-54,"c":3},{"r":162,"d":-54,"c":3},{"r":171,"d":-54,"c":2},{"r":180,"d":-54,"c":2},{"r":189,"d":-54,"c":2},{"r":198,"d":-54,"c":2},{"r":207,"d":-54,"c":3},{"r":216,"d":-54,"c":1},{"r":225,"d":-54,"c":2},{"r":234,"d":-54,"c":2},{"r":243,"d":-54,"c":3},{"r":252,"d":-54,"c":1},{"r":261,"d":-54,"c":2},{"r":270,"d":-54,"c":1},{"r":279,"d":-54,"c":1},{"r":288,"d":-54,"c":2},{"r":297,"d":-54,"c":1},{"r":306,"d":-54,"c":1},{"r":315,"d":-54,"c":1},{"r":324,"d":-54,"c":2},{"r":333,"d":-54,"c":1},{"r":342,"d":-54,"c":2},{"r":351,"d":-54,"c":2},
{"r":0,"d":-58.5,"c":4},{"r":9,"d":-58.5,"c":2},{"r":18,"d":-58.5,"c":4},{"r":27,"d":-58.5,"c":2},{"r":36,"d":-58.5,"c":3},{"r":45,"d":-58.5,"c":2},{"r":54,"d":-58.5,"c":3},{"r":63,"d":-58.5,"c":3},{"r":72,"d":-58.5,"c":2},{"r":81,"d":-58.5,"c":3},{"r":90,"d":-58.5,"c":2},{"r":99,"d":-58.5,"c":2},{"r":108,"d":-58.5,"c":2},{"r":117,"d":-58.5,"c":3},{"r":126,"d":-58.5,"c":2},{"r":135,"d":-58.5,"c":1},{"r":144,"d":-58.5,"c":3},{"r":153,"d":-58.5,"c":3},{"r":162,"d":-58.5,"c":4},{"r":171,"d":-58.5,"c":2},{"r":180,"d":-58.5,"c":3},{"r":189,"d":-58.5,"c":1},{"r":198,"d":-58.5,"c":1},{"r":207,"d":-58.5,"c":3},{"r":216,"d":-58.5,"c":1},{"r":225,"d":-58.5,"c":1},{"r":234,"d":-58.5,"c":1},{"r":243,"d":-58.5,"c":1},{"r":252,"d":-58.5,"c":1},{"r":261,"d":-58.5,"c":1},{"r":270,"d":-58.5,"c":1},{"r":279,"d":-58.5,"c":2},{"r":288,"d":-58.5,"c":1},{"r":297,"d":-58.5,"c":0},{"r":306,"d":-58.5,"c":1},{"r":315,"d":-58.5,"c":1},{"r":324,"d":-58.5,"c":3},{"r":333,"d":-58.5,"c":2},{"r":342,"d":-58.5,"c":1},{"r":351,"d":-58.5,"c":2},
{"r":0,"d":-63,"c":3},{"r":9,"d":-63,"c":2},{"r":18,"d":-63,"c":3},{"r":27,"d":-63,"c":4},{"r":36,"d":-63,"c":2},{"r":45,"d":-63,"c":3},{"r":54,"d":-63,"c":3},{"r":63,"d":-63,"c":2},{"r":72,"d":-63,"c":1},{"r":81,"d":-63,"c":2},{"r":90,"d":-63,"c":1},{"r":99,"d":-63,"c":1},{"r":108,"d":-63,"c":2},{"r":117,"d":-63,"c":2},{"r":126,"d":-63,"c":2},{"r":135,"d":-63,"c":3},{"r":144,"d":-63,"c":2},{"r":153,"d":-63,"c":2},{"r":162,"d":-63,"c":4},{"r":171,"d":-63,"c":3},{"r":180,"d":-63,"c":2},{"r":189,"d":-63,"c":2},{"r":198,"d":-63,"c":1},{"r":207,"d":-63,"c":1},{"r":216,"d":-63,"c":5},{"r":225,"d":-63,"c":1},{"r":234,"d":-63,"c":1},{"r":243,"d":-63,"c":1},{"r":252,"d":-63,"c":0},{"r":261,"d":-63,"c":1},{"r":270,"d":-63,"c":1},{"r":279,"d":-63,"c":2},{"r":288,"d":-63,"c":1},{"r":297,"d":-63,"c":0},{"r":306,"d":-63,"c":1},{"r":315,"d":-63,"c":2},{"r":324,"d":-63,"c":1},{"r":333,"d":-63,"c":1},{"r":342,"d":-63,"c":1},{"r":351,"d":-63,"c":1},
{"r":0,"d":-67.5,"c":2},{"r":9,"d":-67.5,"c":3},{"r":18,"d":-67.5,"c":2},{"r":27,"d":-67.5,"c":2},{"r":36,"d":-67.5,"c":3},{"r":45,"d":-67.5,"c":3},{"r":54,"d":-67.5,"c":2},{"r":63,"d":-67.5,"c":2},{"r":72,"d":-67.5,"c":2},{"r":81,"d":-67.5,"c":1},{"r":90,"d":-67.5,"c":2},{"r":99,"d":-67.5,"c":2},{"r":108,"d":-67.5,"c":3},{"r":117,"d":-67.5,"c":2},{"r":126,"d":-67.5,"c":4},{"r":135,"d":-67.5,"c":2},{"r":144,"d":-67.5,"c":2},{"r":153,"d":-67.5,"c":1},{"r":162,"d":-67.5,"c":2},{"r":171,"d":-67.5,"c":1},{"r":180,"d":-67.5,"c":1},{"r":189,"d":-67.5,"c":2},{"r":198,"d":-67.5,"c":2},{"r":207,"d":-67.5,"c":1},{"r":216,"d":-67.5,"c":2},{"r":225,"d":-67.5,"c":2},{"r":234,"d":-67.5,"c":1},{"r":243,"d":-67.5,"c":0},{"r":252,"d":-67.5,"c":0},{"r":261,"d":-67.5,"c":1},{"r":270,"d":-67.5,"c":1},{"r":279,"d":-67.5,"c":2},{"r":288,"d":-67.5,"c":2},{"r":297,"d":-67.5,"c":1},{"r":306,"d":-67.5,"c":1},{"r":315,"d":-67.5,"c":2},{"r":324,"d":-67.5,"c":1},{"r":333,"d":-67.5,"c":2},{"r":342,"d":-67.5,"c":1},{"r":351,"d":-67.5,"c":3},
{"r":0,"d":-72,"c":1},{"r":9,"d":-72,"c":2},{"r":18,"d":-72,"c":1},{"r":27,"d":-72,"c":1},{"r":36,"d":-72,"c":2},{"r":45,"d":-72,"c":2},{"r":54,"d":-72,"c":2},{"r":63,"d":-72,"c":3},{"r":72,"d":-72,"c":2},{"r":81,"d":-72,"c":2},{"r":90,"d":-72,"c":2},{"r":99,"d":-72,"c":2},{"r":108,"d":-72,"c":1},{"r":117,"d":-72,"c":2},{"r":126,"d":-72,"c":1},{"r":135,"d":-72,"c":3},{"r":144,"d":-72,"c":1},{"r":153,"d":-72,"c":2},{"r":162,"d":-72,"c":2},{"r":171,"d":-72,"c":2},{"r":180,"d":-72,"c":2},{"r":189,"d":-72,"c":1},{"r":198,"d":-72,"c":1},{"r":207,"d":-72,"c":2},{"r":216,"d":-72,"c":1},{"r":225,"d":-72,"c":2},{"r":234,"d":-72,"c":1},{"r":243,"d":-72,"c":1},{"r":252,"d":-72,"c":1},{"r":261,"d":-72,"c":1},{"r":270,"d":-72,"c":1},{"r":279,"d":-72,"c":1},{"r":288,"d":-72,"c":1},{"r":297,"d":-72,"c":1},{"r":306,"d":-72,"c":1},{"r":315,"d":-72,"c":1},{"r":324,"d":-72,"c":2},{"r":333,"d":-72,"c":1},{"r":342,"d":-72,"c":1},{"r":351,"d":-72,"c":2},
{"r":0,"d":-76.5,"c":1},{"r":9,"d":-76.5,"c":1},{"r":18,"d":-76.5,"c":1},{"r":27,"d":-76.5,"c":2},{"r":36,"d":-76.5,"c":1},{"r":45,"d":-76.5,"c":1},{"r":54,"d":-76.5,"c":1},{"r":63,"d":-76.5,"c":1},{"r":72,"d":-76.5,"c":2},{"r":81,"d":-76.5,"c":2},{"r":90,"d":-76.5,"c":2},{"r":99,"d":-76.5,"c":2},{"r":108,"d":-76.5,"c":1},{"r":117,"d":-76.5,"c":1},{"r":126,"d":-76.5,"c":1},{"r":135,"d":-76.5,"c":1},{"r":144,"d":-76.5,"c":2},{"r":153,"d":-76.5,"c":1},{"r":162,"d":-76.5,"c":0},{"r":171,"d":-76.5,"c":1},{"r":180,"d":-76.5,"c":1},{"r":189,"d":-76.5,"c":2},{"r":198,"d":-76.5,"c":1},{"r":207,"d":-76.5,"c":1},{"r":216,"d":-76.5,"c":0},{"r":225,"d":-76.5,"c":1},{"r":234,"d":-76.5,"c":1},{"r":243,"d":-76.5,"c":1},{"r":252,"d":-76.5,"c":1},{"r":261,"d":-76.5,"c":2},{"r":270,"d":-76.5,"c":1},{"r":279,"d":-76.5,"c":1},{"r":288,"d":-76.5,"c":1},{"r":297,"d":-76.5,"c":0},{"r":306,"d":-76.5,"c":0},{"r":315,"d":-76.5,"c":1},{"r":324,"d":-76.5,"c":2},{"r":333,"d":-76.5,"c":1},{"r":342,"d":-76.5,"c":2},{"r":351,"d":-76.5,"c":0},
{"r":0,"d":-81,"c":1},{"r":9,"d":-81,"c":2},{"r":18,"d":-81,"c":0},{"r":27,"d":-81,"c":1},{"r":36,"d":-81,"c":1},{"r":45,"d":-81,"c":1},{"r":54,"d":-81,"c":0},{"r":63,"d":-81,"c":1},{"r":72,"d":-81,"c":1},{"r":81,"d":-81,"c":1},{"r":90,"d":-81,"c":1},{"r":99,"d":-81,"c":1},{"r":108,"d":-81,"c":1},{"r":117,"d":-81,"c":1},{"r":126,"d":-81,"c":2},{"r":135,"d":-81,"c":1},{"r":144,"d":-81,"c":2},{"r":153,"d":-81,"c":1},{"r":162,"d":-81,"c":1},{"r":171,"d":-81,"c":1},{"r":180,"d":-81,"c":1},{"r":189,"d":-81,"c":1},{"r":198,"d":-81,"c":1},{"r":207,"d":-81,"c":2},{"r":216,"d":-81,"c":0},{"r":225,"d":-81,"c":1},{"r":234,"d":-81,"c":2},{"r":243,"d":-81,"c":1},{"r":252,"d":-81,"c":1},{"r":261,"d":-81,"c":1},{"r":270,"d":-81,"c":1},{"r":279,"d":-81,"c":0},{"r":288,"d":-81,"c":1},{"r":297,"d":-81,"c":1},{"r":306,"d":-81,"c":1},{"r":315,"d":-81,"c":0},{"r":324,"d":-81,"c":1},{"r":333,"d":-81,"c":1},{"r":342,"d":-81,"c":1},{"r":351,"d":-81,"c":1},
{"r":0,"d":-85.5,"c":1},{"r":9,"d":-85.5,"c":1},{"r":18,"d":-85.5,"c":0},{"r":27,"d":-85.5,"c":0},{"r":36,"d":-85.5,"c":1},{"r":45,"d":-85.5,"c":0},{"r":54,"d":-85.5,"c":1},{"r":63,"d":-85.5,"c":0},{"r":72,"d":-85.5,"c":1},{"r":81,"d":-85.5,"c":1},{"r":90,"d":-85.5,"c":1},{"r":99,"d":-85.5,"c":0},{"r":108,"d":-85.5,"c":1},{"r":117,"d":-85.5,"c":0},{"r":126,"d":-85.5,"c":1},{"r":135,"d":-85.5,"c":1},{"r":144,"d":-85.5,"c":0},{"r":153,"d":-85.5,"c":1},{"r":162,"d":-85.5,"c":1},{"r":171,"d":-85.5,"c":0},{"r":180,"d":-85.5,"c":0},{"r":189,"d":-85.5,"c":1},{"r":198,"d":-85.5,"c":1},{"r":207,"d":-85.5,"c":1},{"r":216,"d":-85.5,"c":1},{"r":225,"d":-85.5,"c":1},{"r":234,"d":-85.5,"c":1},{"r":243,"d":-85.5,"c":0},{"r":252,"d":-85.5,"c":1},{"r":261,"d":-85.5,"c":0},{"r":270,"d":-85.5,"c":0},{"r":279,"d":-85.5,"c":1},{"r":288,"d":-85.5,"c":1},{"r":297,"d":-85.5,"c":0},{"r":306,"d":-85.5,"c":1},{"r":315,"d":-85.5,"c":1},{"r":324,"d":-85.5,"c":0},{"r":333,"d":-85.5,"c":1},{"r":342,"d":-85.5,"c":0},{"r":351,"d":-85.5,"c":1},
{"r":0,"d":-90,"c":0},{"r":9,"d":-90,"c":0},{"r":18,"d":-90,"c":0},{"r":27,"d":-90,"c":0},{"r":36,"d":-90,"c":0},{"r":45,"d":-90,"c":1},{"r":54,"d":-90,"c":0},{"r":63,"d":-90,"c":0},{"r":72,"d":-90,"c":0},{"r":81,"d":-90,"c":0},{"r":90,"d":-90,"c":0},{"r":99,"d":-90,"c":0},{"r":108,"d":-90,"c":0},{"r":117,"d":-90,"c":0},{"r":126,"d":-90,"c":0},{"r":135,"d":-90,"c":0},{"r":144,"d":-90,"c":0},{"r":153,"d":-90,"c":0},{"r":162,"d":-90,"c":0},{"r":171,"d":-90,"c":0},{"r":180,"d":-90,"c":0},{"r":189,"d":-90,"c":0},{"r":198,"d":-90,"c":1},{"r":207,"d":-90,"c":0},{"r":216,"d":-90,"c":0},{"r":225,"d":-90,"c":1},{"r":234,"d":-90,"c":0},{"r":243,"d":-90,"c":0},{"r":252,"d":-90,"c":0},{"r":261,"d":-90,"c":0},{"r":270,"d":-90,"c":0},{"r":279,"d":-90,"c":0},{"r":288,"d":-90,"c":0},{"r":297,"d":-90,"c":0},{"r":306,"d":-90,"c":0},{"r":315,"d":-90,"c":0},{"r":324,"d":-90,"c":0},{"r":333,"d":-90,"c":0},{"r":342,"d":-90,"c":1},{"r":351,"d":-90,"c":0}
]},
"mark": {"type": "rect", "strokeWidth": 0.6},
"encoding": {
"x": {"field": "r", "type": "quantitative", "bin": {"extent": [0, 360], "step": 9}, "scale": {"domain": [-44.3, 360], "nice": false, "zero": false}, "axis": {"values": [50, 100, 150, 200, 250, 300, 350], "format": "d", "domain": false, "title": "RA [deg]", "titleX": 362, "labelFontSize": 14.5, "titleFontSize": 19, "labelPadding": 4.5, "titlePadding": 9}},
"y": {"field": "d", "type": "quantitative", "bin": {"extent": [-90, 90], "step": 4.5}, "scale": {"domain": [-90, 104.33], "nice": false, "zero": false}, "axis": {"values": [-80, -60, -40, -20, 0, 20, 40, 60, 80], "format": "d", "domain": false, "offset": -71.5, "title": "DEC [deg]", "titleY": 167.5, "labelFontSize": 14.5, "titleFontSize": 19, "labelPadding": 4.5, "titlePadding": 8}},
"fill": {"field": "c", "type": "quantitative", "scale": {"scheme": "viridis", "domain": [0, 10]}, "legend": null},
"stroke": {"field": "c", "type": "quantitative", "scale": {"scheme": "viridis", "domain": [0, 10]}, "legend": null}
}
},
{
"data": {"values": [{"ra": 0.5, "dec": 89.5, "lbl": "Celestial North direction"}, {"ra": 30, "dec": -15, "lbl": "Celestial North direction"}]},
"mark": {"type": "line", "strokeWidth": 2},
"encoding": {
"x": {"field": "ra", "type": "quantitative"},
"y": {"field": "dec", "type": "quantitative"},
"color": {"field": "lbl", "type": "nominal", "scale": {"domain": ["Source position", "Celestial North direction"], "range": ["#ff0000", "#ffffff"]},
  "legend": {"title": null, "orient": "none", "legendX": 400, "legendY": 31, "fillColor": "rgba(255,255,255,0.8)", "strokeColor": "#cccccc", "cornerRadius": 4, "padding": 6.25, "labelFontSize": 15.5, "labelColor": "#222222", "labelLimit": 500, "symbolSize": 100, "symbolOffset": 8.25, "labelOffset": 22.5, "rowPadding": 9.5,
   "encode": {"symbols": {"update": {
     "shape": {"signal": "datum.index === 0 ? 'circle' : 'M-3.2,0H3.2'"},
     "size": {"signal": "datum.index === 0 ? 70 : 100"},
     "fill": {"signal": "datum.index === 0 ? '#ff0000' : 'transparent'"},
     "stroke": {"signal": "datum.index === 0 ? 'transparent' : '#ffffff'"},
     "strokeWidth": {"signal": "datum.index === 0 ? 0 : 2.5"},
     "opacity": {"value": 1}}}}}}
}
},
{
"data": {"values": [{"ra": 30, "dec": -15, "lbl": "Source position"}]},
"mark": {"type": "point", "filled": true, "size": 70, "opacity": 1},
"encoding": {
"x": {"field": "ra", "type": "quantitative"},
"y": {"field": "dec", "type": "quantitative"},
"color": {"field": "lbl", "type": "nominal"}
}
}
]
},
{
"width": 425, "height": 318,
"data": {"values": [
{"a":0,"b":0.1257,"pol":290,"unpol":357},{"a":0.1257,"b":0.2513,"pol":250,"unpol":374},{"a":0.2513,"b":0.3770,"pol":256,"unpol":368},{"a":0.3770,"b":0.5027,"pol":240,"unpol":413},{"a":0.5027,"b":0.6283,"pol":225,"unpol":397},{"a":0.6283,"b":0.7540,"pol":210,"unpol":311},{"a":0.7540,"b":0.8796,"pol":107,"unpol":171},{"a":0.8796,"b":1.0053,"pol":149,"unpol":186},{"a":1.0053,"b":1.1310,"pol":263,"unpol":317},{"a":1.1310,"b":1.2566,"pol":349,"unpol":405},
{"a":1.2566,"b":1.3823,"pol":403,"unpol":422},{"a":1.3823,"b":1.5080,"pol":432,"unpol":383},{"a":1.5080,"b":1.6336,"pol":463,"unpol":428},{"a":1.6336,"b":1.7593,"pol":477,"unpol":409},{"a":1.7593,"b":1.8850,"pol":504,"unpol":360},{"a":1.8850,"b":2.0106,"pol":516,"unpol":397},{"a":2.0106,"b":2.1363,"pol":529,"unpol":379},{"a":2.1363,"b":2.2619,"pol":467,"unpol":365},{"a":2.2619,"b":2.3876,"pol":452,"unpol":329},{"a":2.3876,"b":2.5133,"pol":378,"unpol":329},
{"a":2.5133,"b":2.6389,"pol":403,"unpol":344},{"a":2.6389,"b":2.7646,"pol":443,"unpol":355},{"a":2.7646,"b":2.8903,"pol":372,"unpol":379},{"a":2.8903,"b":3.0159,"pol":351,"unpol":367},{"a":3.0159,"b":3.1416,"pol":315,"unpol":364},{"a":3.1416,"b":3.2673,"pol":318,"unpol":378},{"a":3.2673,"b":3.3929,"pol":251,"unpol":355},{"a":3.3929,"b":3.5186,"pol":246,"unpol":372},{"a":3.5186,"b":3.6442,"pol":240,"unpol":393},{"a":3.6442,"b":3.7699,"pol":225,"unpol":419},
{"a":3.7699,"b":3.8956,"pol":194,"unpol":357},{"a":3.8956,"b":4.0212,"pol":121,"unpol":219},{"a":4.0212,"b":4.1469,"pol":165,"unpol":226},{"a":4.1469,"b":4.2726,"pol":218,"unpol":305},{"a":4.2726,"b":4.3982,"pol":381,"unpol":370},{"a":4.3982,"b":4.5239,"pol":381,"unpol":428},{"a":4.5239,"b":4.6496,"pol":401,"unpol":389},{"a":4.6496,"b":4.7752,"pol":481,"unpol":395},{"a":4.7752,"b":4.9009,"pol":542,"unpol":415},{"a":4.9009,"b":5.0265,"pol":499,"unpol":344},
{"a":5.0265,"b":5.1522,"pol":511,"unpol":364},{"a":5.1522,"b":5.2779,"pol":499,"unpol":357},{"a":5.2779,"b":5.4035,"pol":487,"unpol":344},{"a":5.4035,"b":5.5292,"pol":468,"unpol":304},{"a":5.5292,"b":5.6549,"pol":369,"unpol":284},{"a":5.6549,"b":5.7805,"pol":415,"unpol":302},{"a":5.7805,"b":5.9062,"pol":417,"unpol":326},{"a":5.9062,"b":6.0319,"pol":380,"unpol":362},{"a":6.0319,"b":6.1575,"pol":378,"unpol":335},{"a":6.1575,"b":6.2832,"pol":293,"unpol":368}
]},
"transform": [{"fold": ["pol", "unpol"], "as": ["s", "n"]}],
"mark": {"type": "rect", "opacity": 0.5},
"encoding": {
"x": {"field": "a", "type": "quantitative", "scale": {"domain": [-0.314, 6.597], "nice": false, "zero": false}, "axis": {"values": [0, 1, 2, 3, 4, 5, 6], "format": "d", "title": "Azimuthal angle [rad]", "labelFontSize": 13.6, "titleFontSize": 16.6, "labelPadding": 3, "titlePadding": 8}},
"x2": {"field": "b"},
"y": {"field": "n", "type": "quantitative", "scale": {"domain": [0, 569], "nice": false}, "axis": {"values": [0, 100, 200, 300, 400, 500], "title": null, "labelFontSize": 13.6, "labelPadding": 4.5}},
"y2": {"datum": 0},
"color": {"field": "s", "type": "nominal", "scale": {"domain": ["pol", "unpol"], "range": ["#9b59b6", "#2ecc71"]},
  "legend": {"title": null, "orient": "none", "legendX": 154, "legendY": 7, "labelExpr": "datum.label == 'pol' ? 'pol src.' : 'unpol src.'", "symbolType": "M-3,-1H3V1H-3Z", "symbolSize": 100, "symbolOffset": 4.5, "symbolOpacity": 0.5, "symbolStrokeWidth": 0, "labelFontSize": 14, "labelColor": "#222222", "fillColor": "#ffffff", "strokeColor": "#dddddd", "cornerRadius": 3, "padding": 6, "rowPadding": 8, "labelOffset": 20.5}}
}
}
]
},
{
"spacing": 107,
"resolve": {"scale": {"x": "independent", "y": "independent", "color": "independent"}, "legend": {"color": "independent"}},
"hconcat": [
{
"width": 404, "height": 308,
"title": {"text": "Modulation", "fontSize": 16, "offset": -2.5},
"layer": [
{
"data": {"values": [
{"x":0.0628,"n":60,"lbl":"pol"},{"x":0.1885,"n":41,"lbl":"pol"},{"x":0.3142,"n":33,"lbl":"pol"},{"x":0.4398,"n":42,"lbl":"pol"},{"x":0.5655,"n":20,"lbl":"pol"},{"x":0.6912,"n":50,"lbl":"pol"},{"x":0.8168,"n":100,"lbl":"pol"},{"x":0.9425,"n":116,"lbl":"pol"},{"x":1.0681,"n":59,"lbl":"pol"},{"x":1.1938,"n":104,"lbl":"pol"},
{"x":1.3195,"n":122,"lbl":"pol"},{"x":1.4451,"n":140,"lbl":"pol"},{"x":1.5708,"n":159,"lbl":"pol"},{"x":1.6965,"n":178,"lbl":"pol"},{"x":1.8221,"n":210,"lbl":"pol"},{"x":1.9478,"n":190,"lbl":"pol"},{"x":2.0735,"n":189,"lbl":"pol"},{"x":2.1991,"n":183,"lbl":"pol"},{"x":2.3248,"n":143,"lbl":"pol"},{"x":2.4504,"n":139,"lbl":"pol"},
{"x":2.5761,"n":124,"lbl":"pol"},{"x":2.7018,"n":117,"lbl":"pol"},{"x":2.8274,"n":112,"lbl":"pol"},{"x":2.9531,"n":102,"lbl":"pol"},{"x":3.0788,"n":84,"lbl":"pol"},{"x":3.2044,"n":55,"lbl":"pol"},{"x":3.3301,"n":26,"lbl":"pol"},{"x":3.4558,"n":48,"lbl":"pol"},{"x":3.5814,"n":24,"lbl":"pol"},{"x":3.7071,"n":43,"lbl":"pol"},
{"x":3.8327,"n":40,"lbl":"pol"},{"x":3.9584,"n":94,"lbl":"pol"},{"x":4.0841,"n":105,"lbl":"pol"},{"x":4.2097,"n":119,"lbl":"pol"},{"x":4.3354,"n":91,"lbl":"pol"},{"x":4.4611,"n":116,"lbl":"pol"},{"x":4.5867,"n":154,"lbl":"pol"},{"x":4.7124,"n":144,"lbl":"pol"},{"x":4.8381,"n":166,"lbl":"pol"},{"x":4.9637,"n":203,"lbl":"pol"},
{"x":5.0894,"n":209,"lbl":"pol"},{"x":5.2150,"n":176,"lbl":"pol"},{"x":5.3407,"n":212,"lbl":"pol"},{"x":5.4664,"n":206,"lbl":"pol"},{"x":5.5920,"n":159,"lbl":"pol"},{"x":5.7177,"n":147,"lbl":"pol"},{"x":5.8434,"n":148,"lbl":"pol"},{"x":5.9690,"n":172,"lbl":"pol"},{"x":6.0947,"n":130,"lbl":"pol"},{"x":6.2204,"n":102,"lbl":"pol"}
]},
"mark": {"type": "bar", "size": 4.7, "opacity": 0.5},
"encoding": {
"x": {"field": "x", "type": "quantitative", "scale": {"domain": [-0.29, 6.57], "nice": false, "zero": false}, "axis": {"values": [0, 1, 2, 3, 4, 5, 6], "format": "d", "title": "Azimuthal angle [rad]", "labelFontSize": 12.2, "titleFontSize": 15.8, "labelPadding": 2.5, "titlePadding": 5}},
"y": {"field": "n", "type": "quantitative", "stack": null, "scale": {"domain": [0, 227.2], "nice": false}, "axis": {"values": [0, 25, 50, 75, 100, 125, 150, 175, 200], "format": "d", "title": null, "labelFontSize": 12.2, "labelPadding": 4}},
"color": {"field": "lbl", "type": "nominal", "scale": {"domain": ["μ = 0.62", "pol"], "range": ["#ff0000", "#9b59b6"]},
  "legend": {"title": null, "orient": "none", "legendX": 7, "legendY": 13, "fillColor": "#ffffff", "strokeColor": "#dddddd", "cornerRadius": 3, "padding": 6.75, "labelFontSize": 12.5, "labelColor": "#222222", "labelLimit": 500, "symbolSize": 100, "symbolOffset": 4.75, "rowPadding": 10.5, "labelOffset": 19.5,
   "encode": {"symbols": {"update": {
     "shape": {"signal": "datum.index === 0 ? 'M-3,0H3' : 'M-3,-1H3V1H-3Z'"},
     "size": {"value": 100},
     "fill": {"signal": "datum.index === 0 ? 'transparent' : '#9b59b6'"},
     "stroke": {"signal": "datum.index === 0 ? '#ff0000' : 'transparent'"},
     "strokeWidth": {"signal": "datum.index === 0 ? 2.2 : 0"},
     "opacity": {"signal": "datum.index === 0 ? 1 : 0.5"}}}}}}
}
},
{
"data": {"name": "curve", "values": [
{"x":0.05,"y":70.3,"lo":64.8,"hi":75.8,"lbl":"μ = 0.62"},{"x":0.15,"y":60.3,"lo":54.6,"hi":66.0,"lbl":"μ = 0.62"},{"x":0.25,"y":52.5,"lo":46.7,"hi":58.4,"lbl":"μ = 0.62"},{"x":0.35,"y":47.4,"lo":41.5,"hi":53.4,"lbl":"μ = 0.62"},{"x":0.45,"y":45.1,"lo":39.1,"hi":51.1,"lbl":"μ = 0.62"},{"x":0.55,"y":45.7,"lo":39.7,"hi":51.7,"lbl":"μ = 0.62"},{"x":0.65,"y":49.2,"lo":43.3,"hi":55.1,"lbl":"μ = 0.62"},{"x":0.75,"y":55.4,"lo":49.6,"hi":61.2,"lbl":"μ = 0.62"},{"x":0.85,"y":64.2,"lo":58.6,"hi":69.8,"lbl":"μ = 0.62"},{"x":0.95,"y":75.0,"lo":69.6,"hi":80.4,"lbl":"μ = 0.62"},
{"x":1.05,"y":87.6,"lo":82.5,"hi":92.7,"lbl":"μ = 0.62"},{"x":1.15,"y":101.4,"lo":96.6,"hi":106.2,"lbl":"μ = 0.62"},{"x":1.25,"y":115.9,"lo":111.4,"hi":120.4,"lbl":"μ = 0.62"},{"x":1.35,"y":130.4,"lo":126.2,"hi":134.7,"lbl":"μ = 0.62"},{"x":1.45,"y":144.5,"lo":140.5,"hi":148.5,"lbl":"μ = 0.62"},{"x":1.55,"y":157.4,"lo":153.7,"hi":161.1,"lbl":"μ = 0.62"},{"x":1.65,"y":168.9,"lo":165.5,"hi":172.4,"lbl":"μ = 0.62"},{"x":1.75,"y":178.2,"lo":174.9,"hi":181.5,"lbl":"μ = 0.62"},{"x":1.85,"y":185.2,"lo":182.1,"hi":188.3,"lbl":"μ = 0.62"},{"x":1.95,"y":189.5,"lo":186.5,"hi":192.5,"lbl":"μ = 0.62"},
{"x":2.05,"y":191.0,"lo":188.0,"hi":194.0,"lbl":"μ = 0.62"},{"x":2.15,"y":189.5,"lo":186.5,"hi":192.5,"lbl":"μ = 0.62"},{"x":2.25,"y":185.2,"lo":182.1,"hi":188.3,"lbl":"μ = 0.62"},{"x":2.35,"y":178.2,"lo":174.9,"hi":181.5,"lbl":"μ = 0.62"},{"x":2.45,"y":168.9,"lo":165.5,"hi":172.4,"lbl":"μ = 0.62"},{"x":2.55,"y":157.4,"lo":153.7,"hi":161.1,"lbl":"μ = 0.62"},{"x":2.65,"y":144.5,"lo":140.5,"hi":148.5,"lbl":"μ = 0.62"},{"x":2.75,"y":130.4,"lo":126.2,"hi":134.7,"lbl":"μ = 0.62"},{"x":2.85,"y":115.9,"lo":111.4,"hi":120.4,"lbl":"μ = 0.62"},{"x":2.95,"y":101.4,"lo":96.6,"hi":106.2,"lbl":"μ = 0.62"},
{"x":3.05,"y":87.6,"lo":82.5,"hi":92.7,"lbl":"μ = 0.62"},{"x":3.15,"y":75.0,"lo":69.6,"hi":80.4,"lbl":"μ = 0.62"},{"x":3.25,"y":64.2,"lo":58.6,"hi":69.8,"lbl":"μ = 0.62"},{"x":3.35,"y":55.4,"lo":49.6,"hi":61.2,"lbl":"μ = 0.62"},{"x":3.45,"y":49.2,"lo":43.3,"hi":55.1,"lbl":"μ = 0.62"},{"x":3.55,"y":45.7,"lo":39.7,"hi":51.7,"lbl":"μ = 0.62"},{"x":3.65,"y":45.1,"lo":39.1,"hi":51.1,"lbl":"μ = 0.62"},{"x":3.75,"y":47.4,"lo":41.5,"hi":53.4,"lbl":"μ = 0.62"},{"x":3.85,"y":52.5,"lo":46.7,"hi":58.4,"lbl":"μ = 0.62"},{"x":3.95,"y":60.3,"lo":54.6,"hi":66.0,"lbl":"μ = 0.62"},
{"x":4.05,"y":70.3,"lo":64.8,"hi":75.8,"lbl":"μ = 0.62"},{"x":4.15,"y":82.2,"lo":77.0,"hi":87.4,"lbl":"μ = 0.62"},{"x":4.25,"y":95.6,"lo":90.6,"hi":100.6,"lbl":"μ = 0.62"},{"x":4.35,"y":109.8,"lo":105.1,"hi":114.5,"lbl":"μ = 0.62"},{"x":4.45,"y":124.4,"lo":120.0,"hi":128.8,"lbl":"μ = 0.62"},{"x":4.55,"y":138.7,"lo":134.6,"hi":142.8,"lbl":"μ = 0.62"},{"x":4.65,"y":152.2,"lo":148.4,"hi":156.0,"lbl":"μ = 0.62"},{"x":4.75,"y":164.3,"lo":160.8,"hi":167.9,"lbl":"μ = 0.62"},{"x":4.85,"y":174.6,"lo":171.3,"hi":177.9,"lbl":"μ = 0.62"},{"x":4.95,"y":182.6,"lo":179.4,"hi":185.8,"lbl":"μ = 0.62"},
{"x":5.05,"y":188.1,"lo":185.0,"hi":191.2,"lbl":"μ = 0.62"},{"x":5.15,"y":190.7,"lo":187.7,"hi":193.7,"lbl":"μ = 0.62"},{"x":5.25,"y":190.5,"lo":187.5,"hi":193.5,"lbl":"μ = 0.62"},{"x":5.35,"y":187.4,"lo":184.3,"hi":190.5,"lbl":"μ = 0.62"},{"x":5.45,"y":181.5,"lo":178.3,"hi":184.7,"lbl":"μ = 0.62"},{"x":5.55,"y":173.0,"lo":169.6,"hi":176.4,"lbl":"μ = 0.62"},{"x":5.65,"y":162.4,"lo":158.8,"hi":166.0,"lbl":"μ = 0.62"},{"x":5.75,"y":150.0,"lo":146.2,"hi":153.8,"lbl":"μ = 0.62"},{"x":5.85,"y":136.3,"lo":132.2,"hi":140.4,"lbl":"μ = 0.62"},{"x":5.95,"y":121.9,"lo":117.5,"hi":126.3,"lbl":"μ = 0.62"},
{"x":6.05,"y":107.4,"lo":102.7,"hi":112.1,"lbl":"μ = 0.62"},{"x":6.15,"y":93.2,"lo":88.2,"hi":98.2,"lbl":"μ = 0.62"},{"x":6.23,"y":82.6,"lo":77.4,"hi":87.8,"lbl":"μ = 0.62"}
]},
"mark": {"type": "area", "color": "#ff0000", "opacity": 0.3},
"encoding": {
"x": {"field": "x", "type": "quantitative"},
"y": {"field": "lo", "type": "quantitative"},
"y2": {"field": "hi"}
}
},
{
"data": {"name": "curve"},
"mark": {"type": "line", "strokeWidth": 2},
"encoding": {
"x": {"field": "x", "type": "quantitative"},
"y": {"field": "y", "type": "quantitative"},
"color": {"field": "lbl", "type": "nominal",
  "legend": {"title": null, "orient": "none", "legendX": 7, "legendY": 13, "fillColor": "#ffffff", "strokeColor": "#dddddd", "cornerRadius": 3, "padding": 6.75, "labelFontSize": 12.5, "labelColor": "#222222", "labelLimit": 500, "symbolSize": 100, "symbolOffset": 4.75, "rowPadding": 10.5, "labelOffset": 19.5,
   "encode": {"symbols": {"update": {
     "shape": {"signal": "datum.index === 0 ? 'M-3,0H3' : 'M-3,-1H3V1H-3Z'"},
     "size": {"value": 100},
     "fill": {"signal": "datum.index === 0 ? 'transparent' : '#9b59b6'"},
     "stroke": {"signal": "datum.index === 0 ? '#ff0000' : 'transparent'"},
     "strokeWidth": {"signal": "datum.index === 0 ? 2.2 : 0"},
     "opacity": {"signal": "datum.index === 0 ? 1 : 0.5"}}}}}}
}
}
]
},
{
"width": 605, "height": 291,
"view": {"stroke": "#333333"},
"resolve": {"scale": {"y": "independent"}},
"layer": [
{
"layer": [
{
"data": {"name": "mu", "values": [{"E":100,"mu":0.49,"lbl":"μ"},{"E":150,"mu":0.584,"lbl":"μ"},{"E":200,"mu":0.559,"lbl":"μ"},{"E":250,"mu":0.511,"lbl":"μ"},{"E":300,"mu":0.487,"lbl":"μ"},{"E":350,"mu":0.432,"lbl":"μ"},{"E":500,"mu":0.376,"lbl":"μ"},{"E":600,"mu":0.35,"lbl":"μ"},{"E":700,"mu":0.321,"lbl":"μ"},{"E":1000,"mu":0.277,"lbl":"μ"},{"E":2000,"mu":0.156,"lbl":"μ"},{"E":3000,"mu":0.11,"lbl":"μ"},{"E":5000,"mu":0.056,"lbl":"μ"}]},
"mark": {"type": "rule", "color": "#6495ed", "strokeWidth": 0.8, "strokeDash": [3, 2]},
"encoding": {
"x": {"field": "E", "type": "quantitative", "scale": {"type": "log", "domain": [82.2, 6081], "nice": false}, "axis": {"values": [90, 100, 200, 300, 400, 500, 600, 700, 800, 900, 1000, 2000, 3000, 4000, 5000, 6000], "labelExpr": "datum.value == 100 ? '10²' : datum.value == 1000 ? '10³' : ''", "tickSize": {"condition": {"test": "datum.value == 100 || datum.value == 1000", "value": 5}, "value": 3}, "title": "Energy [keV]", "titleFontSize": 19.5, "titleColor": "#000000", "labelFontSize": 16.7, "labelColor": "#000000", "tickColor": "#000000", "domainColor": "#000000", "labelPadding": 2, "titlePadding": 9}},
"y": {"field": "mu", "type": "quantitative", "scale": {"domain": [0, 1], "nice": false}, "axis": {"values": [0, 0.2, 0.4, 0.6, 0.8, 1], "format": ".1f", "title": "μ", "titleColor": "#6495ed", "titleFontSize": 19, "titleFontStyle": "italic", "titlePadding": 2, "labelFontSize": 16.7, "labelColor": "#000000", "tickColor": "#000000", "domainColor": "#000000", "labelPadding": 4}},
"y2": {"datum": 0}
}
},
{
"data": {"name": "mu"},
"mark": {"type": "line", "color": "#6495ed", "strokeWidth": 1.5},
"encoding": {"x": {"field": "E", "type": "quantitative"}, "y": {"field": "mu", "type": "quantitative"}}
},
{
"data": {"name": "mu"},
"mark": {"type": "point", "filled": true, "size": 50, "opacity": 1},
"encoding": {"x": {"field": "E", "type": "quantitative"}, "y": {"field": "mu", "type": "quantitative"},
"color": {"field": "lbl", "type": "nominal", "scale": {"domain": ["μ", "μ × ⟨Aeff⟩/max(⟨Aeff⟩)", "⟨μ⟩=0.3", "⟨Aeff⟩"], "range": ["#6495ed", "#66cdaa", "#66cdaa", "#daa520"]},
 "legend": {"title": null, "orient": "top-right", "offset": 7, "fillColor": "rgba(255,255,255,0.8)", "strokeColor": "#d0d0d0", "cornerRadius": 4, "padding": 6, "labelFontSize": 16, "labelColor": "#000000", "labelLimit": 500, "symbolSize": 100, "symbolOffset": 11, "rowPadding": 10.3, "labelOffset": 25,
  "encode": {"symbols": {"update": {
    "shape": {"signal": "datum.index === 0 ? 'circle' : 'M-3.7,0H3.7'"},
    "size": {"signal": "datum.index === 0 ? 50 : 100"},
    "fill": {"signal": "datum.index === 0 ? '#6495ed' : 'transparent'"},
    "stroke": {"signal": "datum.index === 0 ? 'transparent' : (datum.index === 3 ? '#daa520' : '#66cdaa')"},
    "strokeWidth": {"signal": "datum.index === 1 ? 5 : (datum.index === 2 ? 2.5 : (datum.index === 3 ? 1 : 0))"},
    "strokeDash": {"signal": "datum.index === 2 ? [9, 4] : [1, 0]"},
    "opacity": {"value": 1}}}}}}
}
},
{
"data": {"values": [{"E":100,"mu":0.072,"lbl":"μ × ⟨Aeff⟩/max(⟨Aeff⟩)"},{"E":150,"mu":0.307,"lbl":"μ × ⟨Aeff⟩/max(⟨Aeff⟩)"},{"E":200,"mu":0.433,"lbl":"μ × ⟨Aeff⟩/max(⟨Aeff⟩)"},{"E":250,"mu":0.473,"lbl":"μ × ⟨Aeff⟩/max(⟨Aeff⟩)"},{"E":300,"mu":0.479,"lbl":"μ × ⟨Aeff⟩/max(⟨Aeff⟩)"},{"E":350,"mu":0.433,"lbl":"μ × ⟨Aeff⟩/max(⟨Aeff⟩)"},{"E":500,"mu":0.365,"lbl":"μ × ⟨Aeff⟩/max(⟨Aeff⟩)"},{"E":600,"mu":0.34,"lbl":"μ × ⟨Aeff⟩/max(⟨Aeff⟩)"},{"E":700,"mu":0.30,"lbl":"μ × ⟨Aeff⟩/max(⟨Aeff⟩)"},{"E":1000,"mu":0.24,"lbl":"μ × ⟨Aeff⟩/max(⟨Aeff⟩)"},{"E":2000,"mu":0.097,"lbl":"μ × ⟨Aeff⟩/max(⟨Aeff⟩)"},{"E":3000,"mu":0.049,"lbl":"μ × ⟨Aeff⟩/max(⟨Aeff⟩)"},{"E":5000,"mu":0.017,"lbl":"μ × ⟨Aeff⟩/max(⟨Aeff⟩)"}]},
"mark": {"type": "line", "strokeWidth": 5, "interpolate": "monotone"},
"encoding": {"x": {"field": "E", "type": "quantitative"}, "y": {"field": "mu", "type": "quantitative"},
"color": {"field": "lbl", "type": "nominal",
 "legend": {"title": null, "orient": "top-right", "offset": 7, "fillColor": "rgba(255,255,255,0.8)", "strokeColor": "#d0d0d0", "cornerRadius": 4, "padding": 6, "labelFontSize": 16, "labelColor": "#000000", "labelLimit": 500, "symbolSize": 100, "symbolOffset": 11, "rowPadding": 10.3, "labelOffset": 25,
  "encode": {"symbols": {"update": {
    "shape": {"signal": "datum.index === 0 ? 'circle' : 'M-3.7,0H3.7'"},
    "size": {"signal": "datum.index === 0 ? 50 : 100"},
    "fill": {"signal": "datum.index === 0 ? '#6495ed' : 'transparent'"},
    "stroke": {"signal": "datum.index === 0 ? 'transparent' : (datum.index === 3 ? '#daa520' : '#66cdaa')"},
    "strokeWidth": {"signal": "datum.index === 1 ? 5 : (datum.index === 2 ? 2.5 : (datum.index === 3 ? 1 : 0))"},
    "strokeDash": {"signal": "datum.index === 2 ? [9, 4] : [1, 0]"},
    "opacity": {"value": 1}}}}}}
}
},
{
"data": {"values": [{"mu": 0.243, "lbl": "⟨μ⟩=0.3"}]},
"mark": {"type": "rule", "strokeWidth": 2.5, "strokeDash": [10, 4.5]},
"encoding": {"y": {"field": "mu", "type": "quantitative"},
"color": {"field": "lbl", "type": "nominal",
 "legend": {"title": null, "orient": "top-right", "offset": 7, "fillColor": "rgba(255,255,255,0.8)", "strokeColor": "#d0d0d0", "cornerRadius": 4, "padding": 6, "labelFontSize": 16, "labelColor": "#000000", "labelLimit": 500, "symbolSize": 100, "symbolOffset": 11, "rowPadding": 10.3, "labelOffset": 25,
  "encode": {"symbols": {"update": {
    "shape": {"signal": "datum.index === 0 ? 'circle' : 'M-3.7,0H3.7'"},
    "size": {"signal": "datum.index === 0 ? 50 : 100"},
    "fill": {"signal": "datum.index === 0 ? '#6495ed' : 'transparent'"},
    "stroke": {"signal": "datum.index === 0 ? 'transparent' : (datum.index === 3 ? '#daa520' : '#66cdaa')"},
    "strokeWidth": {"signal": "datum.index === 1 ? 5 : (datum.index === 2 ? 2.5 : (datum.index === 3 ? 1 : 0))"},
    "strokeDash": {"signal": "datum.index === 2 ? [9, 4] : [1, 0]"},
    "opacity": {"value": 1}}}}}}
}
}
]
},
{
"layer": [
{
"data": {"values": [{"E":100,"A":3.0},{"E":130,"A":12.2},{"E":205.6,"A":19.6},{"E":326,"A":21.0},{"E":516,"A":20.2},{"E":817,"A":18.2},{"E":1290,"A":15.0},{"E":2042,"A":10.5},{"E":3226,"A":7.6},{"E":5093,"A":4.3},{"E":7000,"A":4.3}]},
"mark": {"type": "line", "color": "#daa520", "strokeWidth": 3.5, "interpolate": "step-after", "clip": true},
"encoding": {
"x": {"field": "E", "type": "quantitative"},
"y": {"field": "A", "type": "quantitative", "scale": {"domain": [0, 40], "nice": false}, "axis": {"orient": "right", "values": [0, 5, 10, 15, 20, 25, 30, 35, 40], "title": "Aeff [cm²]", "titleColor": "#daa520", "titleFontSize": 18.5, "titleAngle": 270, "titleBaseline": "top", "titlePadding": 8, "labelFontSize": 16.7, "labelColor": "#000000", "tickColor": "#daa520", "domainColor": "#daa520", "labelPadding": 4}}
}
},
{
"data": {"values": [{"E":200,"A":16.4,"lbl":"⟨Aeff⟩"},{"E":230,"A":18.3,"lbl":"⟨Aeff⟩"},{"E":260,"A":19.6,"lbl":"⟨Aeff⟩"},{"E":300,"A":20.5,"lbl":"⟨Aeff⟩"},{"E":350,"A":21.0,"lbl":"⟨Aeff⟩"},{"E":412,"A":21.2,"lbl":"⟨Aeff⟩"},{"E":500,"A":21.0,"lbl":"⟨Aeff⟩"},{"E":653,"A":20.3,"lbl":"⟨Aeff⟩"},{"E":800,"A":19.6,"lbl":"⟨Aeff⟩"},{"E":1035,"A":18.3,"lbl":"⟨Aeff⟩"},{"E":1300,"A":16.8,"lbl":"⟨Aeff⟩"},{"E":1640,"A":15.0,"lbl":"⟨Aeff⟩"},{"E":2000,"A":13.0,"lbl":"⟨Aeff⟩"},{"E":2600,"A":10.5,"lbl":"⟨Aeff⟩"},{"E":3200,"A":8.7,"lbl":"⟨Aeff⟩"},{"E":4200,"A":7.2,"lbl":"⟨Aeff⟩"}]},
"mark": {"type": "line", "strokeWidth": 1, "interpolate": "monotone"},
"encoding": {"x": {"field": "E", "type": "quantitative"}, "y": {"field": "A", "type": "quantitative"},
"color": {"field": "lbl", "type": "nominal",
 "legend": {"title": null, "orient": "top-right", "offset": 7, "fillColor": "rgba(255,255,255,0.8)", "strokeColor": "#d0d0d0", "cornerRadius": 4, "padding": 6, "labelFontSize": 16, "labelColor": "#000000", "labelLimit": 500, "symbolSize": 100, "symbolOffset": 11, "rowPadding": 10.3, "labelOffset": 25,
  "encode": {"symbols": {"update": {
    "shape": {"signal": "datum.index === 0 ? 'circle' : 'M-3.7,0H3.7'"},
    "size": {"signal": "datum.index === 0 ? 50 : 100"},
    "fill": {"signal": "datum.index === 0 ? '#6495ed' : 'transparent'"},
    "stroke": {"signal": "datum.index === 0 ? 'transparent' : (datum.index === 3 ? '#daa520' : '#66cdaa')"},
    "strokeWidth": {"signal": "datum.index === 1 ? 5 : (datum.index === 2 ? 2.5 : (datum.index === 3 ? 1 : 0))"},
    "strokeDash": {"signal": "datum.index === 2 ? [9, 4] : [1, 0]"},
    "opacity": {"value": 1}}}}}}
}
}
]
}
]
}
]
}
]
}
